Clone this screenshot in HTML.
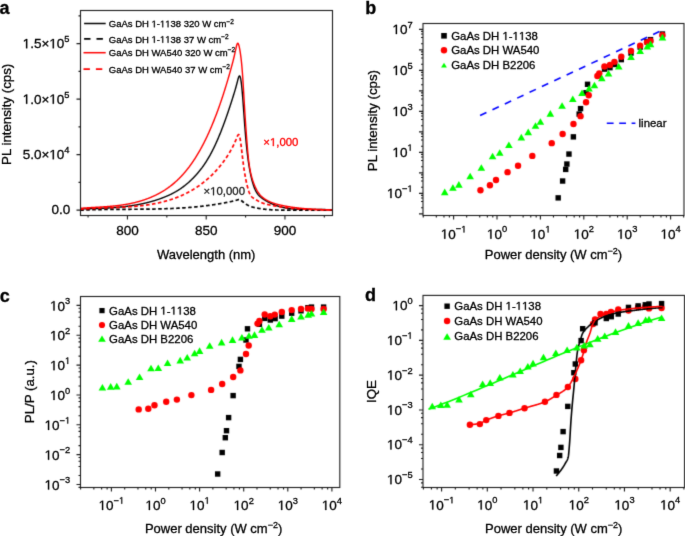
<!DOCTYPE html>
<html><head><meta charset="utf-8"><style>
html,body{margin:0;padding:0;background:#fff;}
svg{display:block;}
text{font-family:"Liberation Sans",sans-serif;}
</style></head><body>
<svg width="685" height="536" viewBox="0 0 685 536" font-family="Liberation Sans, sans-serif">
<defs><filter id="bl" filterUnits="userSpaceOnUse" x="-10" y="-10" width="705" height="556" color-interpolation-filters="sRGB"><feConvolveMatrix order="3" kernelMatrix="0.0289 0.1700 0.0289 0.1700 1.0000 0.1700 0.0289 0.1700 0.0289" divisor="1.7956" edgeMode="duplicate" preserveAlpha="true"/></filter><filter id="bl2" filterUnits="userSpaceOnUse" x="-10" y="-10" width="705" height="556" color-interpolation-filters="sRGB"><feConvolveMatrix order="3" kernelMatrix="0.0100 0.1000 0.0100 0.1000 1.0000 0.1000 0.0100 0.1000 0.0100" divisor="1.4400" edgeMode="duplicate" preserveAlpha="false"/></filter></defs>
<g filter="url(#bl)">
<rect x="-10" y="-10" width="705" height="556" fill="#fff"/>
<clipPath id="ca"><rect x="80.2" y="10.4" width="252" height="204.7"/></clipPath>
<g clip-path="url(#ca)">
<path d="M80.2 208.98 L80.5 208.98 L80.8 208.97 L81.1 208.96 L81.4 208.95 L81.7 208.95 L82 208.94 L82.3 208.93 L82.6 208.92 L82.9 208.91 L83.2 208.9 L83.5 208.89 L83.8 208.88 L84.1 208.87 L84.4 208.87 L84.7 208.86 L85 208.85 L85.3 208.84 L85.6 208.83 L85.9 208.82 L86.2 208.81 L86.5 208.8 L86.8 208.79 L87.1 208.79 L87.4 208.78 L87.7 208.77 L88 208.76 L88.3 208.75 L88.6 208.74 L88.9 208.73 L89.2 208.72 L89.5 208.71 L89.8 208.71 L90.1 208.7 L90.4 208.69 L90.7 208.68 L91 208.67 L91.3 208.66 L91.6 208.65 L91.9 208.64 L92.2 208.63 L92.5 208.62 L92.8 208.61 L93.1 208.6 L93.4 208.59 L93.7 208.58 L94 208.58 L94.3 208.57 L94.6 208.56 L94.9 208.55 L95.2 208.54 L95.5 208.53 L95.8 208.52 L96.1 208.5 L96.4 208.49 L96.7 208.48 L97 208.47 L97.3 208.46 L97.6 208.45 L97.9 208.44 L98.2 208.43 L98.5 208.42 L98.8 208.41 L99.1 208.4 L99.4 208.38 L99.7 208.37 L100 208.36 L100.3 208.35 L100.6 208.34 L100.9 208.32 L101.2 208.31 L101.5 208.3 L101.8 208.29 L102.1 208.27 L102.4 208.26 L102.7 208.25 L103 208.23 L103.3 208.22 L103.6 208.21 L103.9 208.19 L104.2 208.18 L104.5 208.16 L104.8 208.15 L105.1 208.14 L105.4 208.12 L105.7 208.11 L106 208.09 L106.3 208.07 L106.6 208.06 L106.9 208.04 L107.2 208.03 L107.5 208.01 L107.8 207.99 L108.1 207.98 L108.4 207.96 L108.7 207.94 L109 207.93 L109.3 207.91 L109.6 207.89 L109.9 207.87 L110.2 207.85 L110.5 207.83 L110.8 207.81 L111.1 207.8 L111.4 207.78 L111.7 207.76 L112 207.74 L112.3 207.72 L112.6 207.7 L112.9 207.67 L113.2 207.65 L113.5 207.63 L113.8 207.61 L114.1 207.59 L114.4 207.57 L114.7 207.54 L115 207.52 L115.3 207.5 L115.6 207.47 L115.9 207.45 L116.2 207.43 L116.5 207.4 L116.8 207.38 L117.1 207.35 L117.4 207.33 L117.7 207.3 L118 207.27 L118.3 207.25 L118.6 207.22 L118.9 207.19 L119.2 207.17 L119.5 207.14 L119.8 207.11 L120.1 207.08 L120.4 207.05 L120.7 207.02 L121 206.99 L121.3 206.96 L121.6 206.93 L121.9 206.9 L122.2 206.87 L122.5 206.84 L122.8 206.81 L123.1 206.77 L123.4 206.74 L123.7 206.71 L124 206.67 L124.3 206.64 L124.6 206.61 L124.9 206.57 L125.2 206.54 L125.5 206.5 L125.8 206.46 L126.1 206.43 L126.4 206.39 L126.7 206.35 L127 206.32 L127.3 206.28 L127.6 206.24 L127.9 206.2 L128.2 206.16 L128.5 206.12 L128.8 206.08 L129.1 206.04 L129.4 206 L129.7 205.96 L130 205.91 L130.3 205.87 L130.6 205.83 L130.9 205.78 L131.2 205.74 L131.5 205.7 L131.8 205.65 L132.1 205.61 L132.4 205.56 L132.7 205.51 L133 205.47 L133.3 205.42 L133.6 205.37 L133.9 205.32 L134.2 205.27 L134.5 205.22 L134.8 205.17 L135.1 205.12 L135.4 205.07 L135.7 205.02 L136 204.97 L136.3 204.91 L136.6 204.86 L136.9 204.81 L137.2 204.75 L137.5 204.7 L137.8 204.64 L138.1 204.58 L138.4 204.53 L138.7 204.47 L139 204.41 L139.3 204.35 L139.6 204.3 L139.9 204.24 L140.2 204.18 L140.5 204.12 L140.8 204.05 L141.1 203.99 L141.4 203.93 L141.7 203.87 L142 203.8 L142.3 203.74 L142.6 203.67 L142.9 203.61 L143.2 203.54 L143.5 203.48 L143.8 203.41 L144.1 203.34 L144.4 203.27 L144.7 203.2 L145 203.13 L145.3 203.06 L145.6 202.99 L145.9 202.92 L146.2 202.85 L146.5 202.78 L146.8 202.7 L147.1 202.63 L147.4 202.55 L147.7 202.48 L148 202.4 L148.3 202.32 L148.6 202.25 L148.9 202.17 L149.2 202.09 L149.5 202.01 L149.8 201.93 L150.1 201.85 L150.4 201.77 L150.7 201.68 L151 201.6 L151.3 201.52 L151.6 201.43 L151.9 201.35 L152.2 201.26 L152.5 201.18 L152.8 201.09 L153.1 201 L153.4 200.91 L153.7 200.82 L154 200.73 L154.3 200.64 L154.6 200.55 L154.9 200.46 L155.2 200.36 L155.5 200.27 L155.8 200.17 L156.1 200.08 L156.4 199.98 L156.7 199.89 L157 199.79 L157.3 199.69 L157.6 199.59 L157.9 199.49 L158.2 199.39 L158.5 199.29 L158.8 199.19 L159.1 199.08 L159.4 198.98 L159.7 198.87 L160 198.77 L160.3 198.66 L160.6 198.56 L160.9 198.45 L161.2 198.34 L161.5 198.23 L161.8 198.12 L162.1 198.01 L162.4 197.89 L162.7 197.78 L163 197.67 L163.3 197.55 L163.6 197.43 L163.9 197.32 L164.2 197.2 L164.5 197.08 L164.8 196.96 L165.1 196.84 L165.4 196.71 L165.7 196.59 L166 196.47 L166.3 196.34 L166.6 196.21 L166.9 196.08 L167.2 195.95 L167.5 195.82 L167.8 195.69 L168.1 195.56 L168.4 195.42 L168.7 195.29 L169 195.15 L169.3 195.01 L169.6 194.87 L169.9 194.73 L170.2 194.58 L170.5 194.44 L170.8 194.29 L171.1 194.15 L171.4 194 L171.7 193.85 L172 193.7 L172.3 193.54 L172.6 193.39 L172.9 193.23 L173.2 193.07 L173.5 192.91 L173.8 192.75 L174.1 192.59 L174.4 192.43 L174.7 192.26 L175 192.09 L175.3 191.92 L175.6 191.75 L175.9 191.58 L176.2 191.4 L176.5 191.23 L176.8 191.05 L177.1 190.87 L177.4 190.68 L177.7 190.5 L178 190.31 L178.3 190.13 L178.6 189.94 L178.9 189.75 L179.2 189.55 L179.5 189.36 L179.8 189.16 L180.1 188.96 L180.4 188.76 L180.7 188.55 L181 188.35 L181.3 188.14 L181.6 187.93 L181.9 187.72 L182.2 187.5 L182.5 187.29 L182.8 187.07 L183.1 186.85 L183.4 186.63 L183.7 186.4 L184 186.17 L184.3 185.94 L184.6 185.71 L184.9 185.48 L185.2 185.24 L185.5 185 L185.8 184.76 L186.1 184.52 L186.4 184.27 L186.7 184.02 L187 183.77 L187.3 183.52 L187.6 183.26 L187.9 183.01 L188.2 182.74 L188.5 182.48 L188.8 182.22 L189.1 181.95 L189.4 181.68 L189.7 181.4 L190 181.13 L190.3 180.85 L190.6 180.57 L190.9 180.28 L191.2 180 L191.5 179.71 L191.8 179.41 L192.1 179.12 L192.4 178.82 L192.7 178.52 L193 178.22 L193.3 177.91 L193.6 177.6 L193.9 177.29 L194.2 176.98 L194.5 176.66 L194.8 176.34 L195.1 176.01 L195.4 175.69 L195.7 175.36 L196 175.03 L196.3 174.69 L196.6 174.35 L196.9 174.01 L197.2 173.67 L197.5 173.32 L197.8 172.97 L198.1 172.62 L198.4 172.26 L198.7 171.9 L199 171.54 L199.3 171.17 L199.6 170.8 L199.9 170.42 L200.2 170.05 L200.5 169.67 L200.8 169.28 L201.1 168.89 L201.4 168.5 L201.7 168.11 L202 167.7 L202.3 167.3 L202.6 166.89 L202.9 166.48 L203.2 166.06 L203.5 165.64 L203.8 165.21 L204.1 164.78 L204.4 164.34 L204.7 163.9 L205 163.46 L205.3 163.01 L205.6 162.55 L205.9 162.09 L206.2 161.62 L206.5 161.15 L206.8 160.67 L207.1 160.19 L207.4 159.7 L207.7 159.21 L208 158.7 L208.3 158.2 L208.6 157.69 L208.9 157.17 L209.2 156.65 L209.5 156.12 L209.8 155.58 L210.1 155.04 L210.4 154.49 L210.7 153.94 L211 153.38 L211.3 152.82 L211.6 152.24 L211.9 151.67 L212.2 151.09 L212.5 150.5 L212.8 149.9 L213.1 149.3 L213.4 148.7 L213.7 148.08 L214 147.47 L214.3 146.84 L214.6 146.21 L214.9 145.58 L215.2 144.94 L215.5 144.29 L215.8 143.64 L216.1 142.98 L216.4 142.31 L216.7 141.64 L217 140.97 L217.3 140.29 L217.6 139.6 L217.9 138.9 L218.2 138.2 L218.5 137.5 L218.8 136.79 L219.1 136.07 L219.4 135.35 L219.7 134.62 L220 133.88 L220.3 133.14 L220.6 132.4 L220.9 131.65 L221.2 130.89 L221.5 130.13 L221.8 129.36 L222.1 128.58 L222.4 127.8 L222.7 127.01 L223 126.22 L223.3 125.42 L223.6 124.62 L223.9 123.81 L224.2 123 L224.5 122.18 L224.8 121.35 L225.1 120.52 L225.4 119.68 L225.7 118.84 L226 117.99 L226.3 117.14 L226.6 116.28 L226.9 115.42 L227.2 114.55 L227.5 113.68 L227.8 112.8 L228.1 111.92 L228.4 111.03 L228.7 110.14 L229 109.25 L229.3 108.34 L229.6 107.44 L229.9 106.53 L230.2 105.62 L230.5 104.7 L230.8 103.77 L231.1 102.85 L231.4 101.92 L231.7 100.98 L232 100.04 L232.3 99.1 L232.6 98.15 L232.9 97.2 L233.2 96.24 L233.5 95.28 L233.8 94.32 L234.1 93.34 L234.4 92.36 L234.7 91.37 L235 90.37 L235.3 89.35 L235.6 88.31 L235.9 87.25 L236.2 86.16 L236.5 85.05 L236.8 83.9 L237.1 82.74 L237.4 81.57 L237.7 80.4 L238 79.27 L238.3 78.22 L238.6 77.3 L238.9 76.56 L239.2 76.08 L239.5 75.9 L239.8 76.08 L240.1 76.64 L240.4 77.62 L240.7 79 L241 80.79 L241.3 82.97 L241.6 85.52 L241.9 88.42 L242.2 91.64 L242.5 95.15 L242.8 98.91 L243.1 102.87 L243.4 106.97 L243.7 111.16 L244 115.38 L244.3 119.57 L244.6 123.67 L244.9 127.66 L245.2 131.5 L245.5 135.16 L245.8 138.64 L246.1 141.93 L246.4 145.04 L246.7 147.97 L247 150.72 L247.3 153.32 L247.6 155.77 L247.9 158.09 L248.2 160.29 L248.5 162.37 L248.8 164.35 L249.1 166.23 L249.4 168.02 L249.7 169.73 L250 171.36 L250.3 172.91 L250.6 174.39 L250.9 175.8 L251.2 177.14 L251.5 178.41 L251.8 179.63 L252.1 180.78 L252.4 181.88 L252.7 182.92 L253 183.91 L253.3 184.85 L253.6 185.75 L253.9 186.59 L254.2 187.4 L254.5 188.16 L254.8 188.88 L255.1 189.56 L255.4 190.2 L255.7 190.81 L256 191.38 L256.3 191.92 L256.6 192.43 L256.9 192.92 L257.2 193.37 L257.5 193.8 L257.8 194.2 L258.1 194.58 L258.4 194.94 L258.7 195.28 L259 195.6 L259.3 195.91 L259.6 196.2 L259.9 196.48 L260.2 196.74 L260.5 197 L260.8 197.24 L261.1 197.48 L261.4 197.72 L261.7 197.94 L262 198.17 L262.3 198.38 L262.6 198.6 L262.9 198.81 L263.2 199.02 L263.5 199.22 L263.8 199.42 L264.1 199.62 L264.4 199.81 L264.7 200 L265 200.19 L265.3 200.38 L265.6 200.56 L265.9 200.74 L266.2 200.92 L266.5 201.09 L266.8 201.26 L267.1 201.43 L267.4 201.6 L267.7 201.76 L268 201.93 L268.3 202.09 L268.6 202.24 L268.9 202.4 L269.2 202.55 L269.5 202.7 L269.8 202.85 L270.1 202.99 L270.4 203.13 L270.7 203.27 L271 203.41 L271.3 203.55 L271.6 203.68 L271.9 203.82 L272.2 203.95 L272.5 204.08 L272.8 204.2 L273.1 204.33 L273.4 204.45 L273.7 204.57 L274 204.69 L274.3 204.81 L274.6 204.92 L274.9 205.03 L275.2 205.14 L275.5 205.25 L275.8 205.36 L276.1 205.47 L276.4 205.57 L276.7 205.67 L277 205.77 L277.3 205.87 L277.6 205.97 L277.9 206.06 L278.2 206.16 L278.5 206.25 L278.8 206.34 L279.1 206.42 L279.4 206.51 L279.7 206.6 L280 206.68 L280.3 206.76 L280.6 206.84 L280.9 206.92 L281.2 206.99 L281.5 207.07 L281.8 207.14 L282.1 207.22 L282.4 207.29 L282.7 207.36 L283 207.42 L283.3 207.49 L283.6 207.55 L283.9 207.62 L284.2 207.68 L284.5 207.74 L284.8 207.8 L285.1 207.86 L285.4 207.91 L285.7 207.97 L286 208.02 L286.3 208.07 L286.6 208.12 L286.9 208.17 L287.2 208.22 L287.5 208.27 L287.8 208.32 L288.1 208.36 L288.4 208.4 L288.7 208.45 L289 208.49 L289.3 208.53 L289.6 208.57 L289.9 208.61 L290.2 208.64 L290.5 208.68 L290.8 208.71 L291.1 208.75 L291.4 208.78 L291.7 208.81 L292 208.84 L292.3 208.87 L292.6 208.9 L292.9 208.93 L293.2 208.95 L293.5 208.98 L293.8 209 L294.1 209.03 L294.4 209.05 L294.7 209.07 L295 209.09 L295.3 209.11 L295.6 209.13 L295.9 209.15 L296.2 209.17 L296.5 209.19 L296.8 209.2 L297.1 209.22 L297.4 209.23 L297.7 209.25 L298 209.26 L298.3 209.27 L298.6 209.29 L298.9 209.3 L299.2 209.31 L299.5 209.32 L299.8 209.33 L300.1 209.34 L300.4 209.35 L300.7 209.35 L301 209.36 L301.3 209.37 L301.6 209.37 L301.9 209.38 L302.2 209.39 L302.5 209.39 L302.8 209.4 L303.1 209.4 L303.4 209.4 L303.7 209.41 L304 209.41 L304.3 209.41 L304.6 209.41 L304.9 209.41 L305.2 209.42 L305.5 209.42 L305.8 209.42 L306.1 209.42 L306.4 209.42 L306.7 209.42 L307 209.42 L307.3 209.42 L307.6 209.42 L307.9 209.42 L308.2 209.42 L308.5 209.42 L308.8 209.42 L309.1 209.42 L309.4 209.42 L309.7 209.42 L310 209.42 L310.3 209.42 L310.6 209.42 L310.9 209.42 L311.2 209.42 L311.5 209.42 L311.8 209.42 L312.1 209.42 L312.4 209.42 L312.7 209.42 L313 209.42 L313.3 209.42 L313.6 209.42 L313.9 209.42 L314.2 209.42 L314.5 209.42 L314.8 209.42 L315.1 209.42 L315.4 209.42 L315.7 209.42 L316 209.42 L316.3 209.42 L316.6 209.42 L316.9 209.42 L317.2 209.42 L317.5 209.42 L317.8 209.42 L318.1 209.42 L318.4 209.42 L318.7 209.42 L319 209.42 L319.3 209.42 L319.6 209.42 L319.9 209.42 L320.2 209.42 L320.5 209.42 L320.8 209.43 L321.1 209.43 L321.4 209.44 L321.7 209.44 L322 209.45 L322.3 209.46 L322.6 209.46 L322.9 209.47 L323.2 209.48 L323.5 209.49 L323.8 209.51 L324.1 209.52 L324.4 209.53 L324.7 209.54 L325 209.56 L325.3 209.57 L325.6 209.59 L325.9 209.6 L326.2 209.62 L326.5 209.64 L326.8 209.66 L327.1 209.68 L327.4 209.7 L327.7 209.72 L328 209.74 L328.3 209.76 L328.6 209.79 L328.9 209.81 L329.2 209.84 L329.5 209.86 L329.8 209.89 L330.1 209.92 L330.4 209.95 L330.7 209.97 L331 210 L331.3 210.03 L331.6 210.05 L331.9 210.07 L332.2 210.09" fill="none" stroke="#000" stroke-width="1.4" stroke-linejoin="round"/>
<path d="M80.2 210.24 L80.5 210.23 L80.8 210.22 L81.1 210.21 L81.4 210.2 L81.7 210.19 L82 210.17 L82.3 210.16 L82.6 210.15 L82.9 210.13 L83.2 210.12 L83.5 210.11 L83.8 210.09 L84.1 210.08 L84.4 210.07 L84.7 210.05 L85 210.04 L85.3 210.03 L85.6 210.02 L85.9 210.01 L86.2 209.99 L86.5 209.98 L86.8 209.97 L87.1 209.96 L87.4 209.95 L87.7 209.94 L88 209.92 L88.3 209.91 L88.6 209.9 L88.9 209.89 L89.2 209.88 L89.5 209.87 L89.8 209.86 L90.1 209.85 L90.4 209.84 L90.7 209.83 L91 209.82 L91.3 209.81 L91.6 209.8 L91.9 209.79 L92.2 209.78 L92.5 209.77 L92.8 209.76 L93.1 209.76 L93.4 209.75 L93.7 209.74 L94 209.73 L94.3 209.72 L94.6 209.71 L94.9 209.7 L95.2 209.7 L95.5 209.69 L95.8 209.68 L96.1 209.67 L96.4 209.67 L96.7 209.66 L97 209.65 L97.3 209.64 L97.6 209.64 L97.9 209.63 L98.2 209.62 L98.5 209.62 L98.8 209.61 L99.1 209.6 L99.4 209.6 L99.7 209.59 L100 209.58 L100.3 209.58 L100.6 209.57 L100.9 209.56 L101.2 209.56 L101.5 209.55 L101.8 209.55 L102.1 209.54 L102.4 209.54 L102.7 209.53 L103 209.53 L103.3 209.52 L103.6 209.51 L103.9 209.51 L104.2 209.5 L104.5 209.5 L104.8 209.49 L105.1 209.49 L105.4 209.49 L105.7 209.48 L106 209.48 L106.3 209.47 L106.6 209.47 L106.9 209.46 L107.2 209.46 L107.5 209.45 L107.8 209.45 L108.1 209.45 L108.4 209.44 L108.7 209.44 L109 209.44 L109.3 209.43 L109.6 209.43 L109.9 209.42 L110.2 209.42 L110.5 209.42 L110.8 209.41 L111.1 209.41 L111.4 209.41 L111.7 209.4 L112 209.4 L112.3 209.4 L112.6 209.39 L112.9 209.39 L113.2 209.39 L113.5 209.39 L113.8 209.38 L114.1 209.38 L114.4 209.38 L114.7 209.37 L115 209.37 L115.3 209.37 L115.6 209.37 L115.9 209.36 L116.2 209.36 L116.5 209.36 L116.8 209.36 L117.1 209.36 L117.4 209.35 L117.7 209.35 L118 209.35 L118.3 209.35 L118.6 209.34 L118.9 209.34 L119.2 209.34 L119.5 209.34 L119.8 209.34 L120.1 209.33 L120.4 209.33 L120.7 209.33 L121 209.33 L121.3 209.33 L121.6 209.32 L121.9 209.32 L122.2 209.32 L122.5 209.32 L122.8 209.32 L123.1 209.32 L123.4 209.31 L123.7 209.31 L124 209.31 L124.3 209.31 L124.6 209.31 L124.9 209.3 L125.2 209.3 L125.5 209.3 L125.8 209.3 L126.1 209.3 L126.4 209.3 L126.7 209.3 L127 209.29 L127.3 209.29 L127.6 209.29 L127.9 209.29 L128.2 209.29 L128.5 209.29 L128.8 209.28 L129.1 209.28 L129.4 209.28 L129.7 209.28 L130 209.28 L130.3 209.28 L130.6 209.27 L130.9 209.27 L131.2 209.27 L131.5 209.27 L131.8 209.27 L132.1 209.27 L132.4 209.26 L132.7 209.26 L133 209.26 L133.3 209.26 L133.6 209.26 L133.9 209.26 L134.2 209.25 L134.5 209.25 L134.8 209.25 L135.1 209.25 L135.4 209.25 L135.7 209.24 L136 209.24 L136.3 209.24 L136.6 209.24 L136.9 209.24 L137.2 209.23 L137.5 209.23 L137.8 209.23 L138.1 209.23 L138.4 209.22 L138.7 209.22 L139 209.22 L139.3 209.22 L139.6 209.22 L139.9 209.21 L140.2 209.21 L140.5 209.21 L140.8 209.21 L141.1 209.2 L141.4 209.2 L141.7 209.2 L142 209.19 L142.3 209.19 L142.6 209.19 L142.9 209.19 L143.2 209.18 L143.5 209.18 L143.8 209.18 L144.1 209.17 L144.4 209.17 L144.7 209.17 L145 209.16 L145.3 209.16 L145.6 209.16 L145.9 209.15 L146.2 209.15 L146.5 209.15 L146.8 209.14 L147.1 209.14 L147.4 209.14 L147.7 209.13 L148 209.13 L148.3 209.12 L148.6 209.12 L148.9 209.12 L149.2 209.11 L149.5 209.11 L149.8 209.1 L150.1 209.1 L150.4 209.09 L150.7 209.09 L151 209.08 L151.3 209.08 L151.6 209.07 L151.9 209.07 L152.2 209.06 L152.5 209.06 L152.8 209.05 L153.1 209.05 L153.4 209.04 L153.7 209.04 L154 209.03 L154.3 209.03 L154.6 209.02 L154.9 209.02 L155.2 209.01 L155.5 209 L155.8 209 L156.1 208.99 L156.4 208.98 L156.7 208.98 L157 208.97 L157.3 208.97 L157.6 208.96 L157.9 208.95 L158.2 208.94 L158.5 208.94 L158.8 208.93 L159.1 208.92 L159.4 208.92 L159.7 208.91 L160 208.9 L160.3 208.89 L160.6 208.89 L160.9 208.88 L161.2 208.87 L161.5 208.86 L161.8 208.85 L162.1 208.84 L162.4 208.84 L162.7 208.83 L163 208.82 L163.3 208.81 L163.6 208.8 L163.9 208.79 L164.2 208.78 L164.5 208.77 L164.8 208.76 L165.1 208.75 L165.4 208.74 L165.7 208.73 L166 208.72 L166.3 208.71 L166.6 208.7 L166.9 208.69 L167.2 208.68 L167.5 208.67 L167.8 208.66 L168.1 208.65 L168.4 208.64 L168.7 208.63 L169 208.61 L169.3 208.6 L169.6 208.59 L169.9 208.58 L170.2 208.57 L170.5 208.56 L170.8 208.54 L171.1 208.53 L171.4 208.52 L171.7 208.5 L172 208.49 L172.3 208.48 L172.6 208.47 L172.9 208.45 L173.2 208.44 L173.5 208.42 L173.8 208.41 L174.1 208.4 L174.4 208.38 L174.7 208.37 L175 208.35 L175.3 208.34 L175.6 208.32 L175.9 208.31 L176.2 208.29 L176.5 208.28 L176.8 208.26 L177.1 208.25 L177.4 208.23 L177.7 208.21 L178 208.2 L178.3 208.18 L178.6 208.16 L178.9 208.15 L179.2 208.13 L179.5 208.11 L179.8 208.1 L180.1 208.08 L180.4 208.06 L180.7 208.04 L181 208.02 L181.3 208.01 L181.6 207.99 L181.9 207.97 L182.2 207.95 L182.5 207.93 L182.8 207.91 L183.1 207.89 L183.4 207.87 L183.7 207.85 L184 207.83 L184.3 207.81 L184.6 207.79 L184.9 207.77 L185.2 207.75 L185.5 207.73 L185.8 207.71 L186.1 207.69 L186.4 207.66 L186.7 207.64 L187 207.62 L187.3 207.6 L187.6 207.58 L187.9 207.55 L188.2 207.53 L188.5 207.51 L188.8 207.48 L189.1 207.46 L189.4 207.44 L189.7 207.41 L190 207.39 L190.3 207.36 L190.6 207.34 L190.9 207.31 L191.2 207.29 L191.5 207.26 L191.8 207.24 L192.1 207.21 L192.4 207.19 L192.7 207.16 L193 207.13 L193.3 207.11 L193.6 207.08 L193.9 207.05 L194.2 207.03 L194.5 207 L194.8 206.97 L195.1 206.94 L195.4 206.91 L195.7 206.88 L196 206.86 L196.3 206.83 L196.6 206.8 L196.9 206.77 L197.2 206.74 L197.5 206.71 L197.8 206.68 L198.1 206.65 L198.4 206.62 L198.7 206.58 L199 206.55 L199.3 206.52 L199.6 206.49 L199.9 206.46 L200.2 206.43 L200.5 206.39 L200.8 206.36 L201.1 206.33 L201.4 206.29 L201.7 206.26 L202 206.23 L202.3 206.19 L202.6 206.16 L202.9 206.12 L203.2 206.09 L203.5 206.05 L203.8 206.02 L204.1 205.98 L204.4 205.95 L204.7 205.91 L205 205.87 L205.3 205.84 L205.6 205.8 L205.9 205.76 L206.2 205.72 L206.5 205.69 L206.8 205.65 L207.1 205.61 L207.4 205.57 L207.7 205.53 L208 205.49 L208.3 205.45 L208.6 205.41 L208.9 205.37 L209.2 205.33 L209.5 205.29 L209.8 205.25 L210.1 205.21 L210.4 205.17 L210.7 205.13 L211 205.08 L211.3 205.04 L211.6 205 L211.9 204.95 L212.2 204.91 L212.5 204.87 L212.8 204.82 L213.1 204.78 L213.4 204.73 L213.7 204.69 L214 204.64 L214.3 204.6 L214.6 204.55 L214.9 204.51 L215.2 204.46 L215.5 204.41 L215.8 204.37 L216.1 204.32 L216.4 204.27 L216.7 204.22 L217 204.17 L217.3 204.13 L217.6 204.08 L217.9 204.03 L218.2 203.98 L218.5 203.93 L218.8 203.88 L219.1 203.83 L219.4 203.78 L219.7 203.73 L220 203.67 L220.3 203.62 L220.6 203.57 L220.9 203.52 L221.2 203.46 L221.5 203.41 L221.8 203.36 L222.1 203.3 L222.4 203.25 L222.7 203.2 L223 203.14 L223.3 203.09 L223.6 203.03 L223.9 202.97 L224.2 202.92 L224.5 202.86 L224.8 202.8 L225.1 202.75 L225.4 202.69 L225.7 202.63 L226 202.57 L226.3 202.51 L226.6 202.46 L226.9 202.4 L227.2 202.34 L227.5 202.28 L227.8 202.22 L228.1 202.16 L228.4 202.09 L228.7 202.03 L229 201.97 L229.3 201.91 L229.6 201.85 L229.9 201.78 L230.2 201.72 L230.5 201.66 L230.8 201.59 L231.1 201.53 L231.4 201.46 L231.7 201.4 L232 201.33 L232.3 201.27 L232.6 201.2 L232.9 201.13 L233.2 201.07 L233.5 201 L233.8 200.93 L234.1 200.86 L234.4 200.79 L234.7 200.71 L235 200.64 L235.3 200.56 L235.6 200.47 L235.9 200.39 L236.2 200.3 L236.5 200.2 L236.8 200.1 L237.1 200 L237.4 199.9 L237.7 199.79 L238 199.7 L238.3 199.62 L238.6 199.55 L238.9 199.51 L239.2 199.5 L239.5 199.53 L239.8 199.6 L240.1 199.72 L240.4 199.87 L240.7 200.06 L241 200.28 L241.3 200.51 L241.6 200.75 L241.9 201 L242.2 201.25 L242.5 201.5 L242.8 201.74 L243.1 201.98 L243.4 202.22 L243.7 202.46 L244 202.69 L244.3 202.91 L244.6 203.14 L244.9 203.36 L245.2 203.57 L245.5 203.78 L245.8 203.99 L246.1 204.19 L246.4 204.38 L246.7 204.57 L247 204.76 L247.3 204.93 L247.6 205.11 L247.9 205.27 L248.2 205.43 L248.5 205.58 L248.8 205.72 L249.1 205.86 L249.4 205.99 L249.7 206.12 L250 206.24 L250.3 206.35 L250.6 206.46 L250.9 206.57 L251.2 206.67 L251.5 206.77 L251.8 206.86 L252.1 206.95 L252.4 207.03 L252.7 207.12 L253 207.2 L253.3 207.27 L253.6 207.35 L253.9 207.42 L254.2 207.49 L254.5 207.55 L254.8 207.62 L255.1 207.68 L255.4 207.75 L255.7 207.81 L256 207.87 L256.3 207.93 L256.6 207.99 L256.9 208.05 L257.2 208.1 L257.5 208.16 L257.8 208.21 L258.1 208.27 L258.4 208.32 L258.7 208.37 L259 208.42 L259.3 208.47 L259.6 208.52 L259.9 208.57 L260.2 208.62 L260.5 208.66 L260.8 208.71 L261.1 208.75 L261.4 208.79 L261.7 208.84 L262 208.88 L262.3 208.92 L262.6 208.96 L262.9 209 L263.2 209.04 L263.5 209.07 L263.8 209.11 L264.1 209.15 L264.4 209.18 L264.7 209.22 L265 209.25 L265.3 209.28 L265.6 209.31 L265.9 209.34 L266.2 209.37 L266.5 209.4 L266.8 209.43 L267.1 209.46 L267.4 209.49 L267.7 209.51 L268 209.54 L268.3 209.56 L268.6 209.59 L268.9 209.61 L269.2 209.64 L269.5 209.66 L269.8 209.68 L270.1 209.7 L270.4 209.72 L270.7 209.74 L271 209.76 L271.3 209.78 L271.6 209.79 L271.9 209.81 L272.2 209.83 L272.5 209.84 L272.8 209.86 L273.1 209.87 L273.4 209.89 L273.7 209.9 L274 209.91 L274.3 209.92 L274.6 209.93 L274.9 209.94 L275.2 209.96 L275.5 209.96 L275.8 209.97 L276.1 209.98 L276.4 209.99 L276.7 210 L277 210.01 L277.3 210.01 L277.6 210.02 L277.9 210.02 L278.2 210.03 L278.5 210.03 L278.8 210.04 L279.1 210.04 L279.4 210.04 L279.7 210.05 L280 210.05 L280.3 210.05 L280.6 210.05 L280.9 210.05 L281.2 210.06 L281.5 210.06 L281.8 210.06 L282.1 210.06 L282.4 210.06 L282.7 210.06 L283 210.06 L283.3 210.06 L283.6 210.06 L283.9 210.06 L284.2 210.06 L284.5 210.06 L284.8 210.06 L285.1 210.06 L285.4 210.06 L285.7 210.06 L286 210.06 L286.3 210.06 L286.6 210.06 L286.9 210.06 L287.2 210.06 L287.5 210.06 L287.8 210.06 L288.1 210.06 L288.4 210.06 L288.7 210.06 L289 210.06 L289.3 210.06 L289.6 210.06 L289.9 210.06 L290.2 210.06 L290.5 210.06 L290.8 210.06 L291.1 210.06 L291.4 210.06 L291.7 210.06 L292 210.06 L292.3 210.06 L292.6 210.06 L292.9 210.06 L293.2 210.06 L293.5 210.06 L293.8 210.06 L294.1 210.06 L294.4 210.06 L294.7 210.06 L295 210.06 L295.3 210.06 L295.6 210.06 L295.9 210.06 L296.2 210.06 L296.5 210.06 L296.8 210.06 L297.1 210.06 L297.4 210.06 L297.7 210.06 L298 210.06 L298.3 210.06 L298.6 210.06 L298.9 210.06 L299.2 210.06 L299.5 210.06 L299.8 210.06 L300.1 210.06 L300.4 210.06 L300.7 210.06 L301 210.06 L301.3 210.06 L301.6 210.06 L301.9 210.06 L302.2 210.06 L302.5 210.06 L302.8 210.06 L303.1 210.06 L303.4 210.06 L303.7 210.06 L304 210.06 L304.3 210.06 L304.6 210.06 L304.9 210.06 L305.2 210.06 L305.5 210.06 L305.8 210.06 L306.1 210.06 L306.4 210.06 L306.7 210.06 L307 210.06 L307.3 210.06 L307.6 210.06 L307.9 210.06 L308.2 210.06 L308.5 210.06 L308.8 210.06 L309.1 210.06 L309.4 210.06 L309.7 210.06 L310 210.06 L310.3 210.06 L310.6 210.06 L310.9 210.06 L311.2 210.06 L311.5 210.06 L311.8 210.06 L312.1 210.06 L312.4 210.06 L312.7 210.06 L313 210.06 L313.3 210.06 L313.6 210.06 L313.9 210.06 L314.2 210.06 L314.5 210.06 L314.8 210.06 L315.1 210.06 L315.4 210.06 L315.7 210.06 L316 210.06 L316.3 210.06 L316.6 210.06 L316.9 210.06 L317.2 210.06 L317.5 210.06 L317.8 210.06 L318.1 210.06 L318.4 210.06 L318.7 210.06 L319 210.06 L319.3 210.06 L319.6 210.06 L319.9 210.06 L320.2 210.06 L320.5 210.06 L320.8 210.06 L321.1 210.06 L321.4 210.06 L321.7 210.06 L322 210.06 L322.3 210.06 L322.6 210.06 L322.9 210.06 L323.2 210.06 L323.5 210.06 L323.8 210.06 L324.1 210.06 L324.4 210.06 L324.7 210.06 L325 210.06 L325.3 210.06 L325.6 210.06 L325.9 210.06 L326.2 210.06 L326.5 210.06 L326.8 210.06 L327.1 210.06 L327.4 210.06 L327.7 210.06 L328 210.06 L328.3 210.06 L328.6 210.06 L328.9 210.06 L329.2 210.06 L329.5 210.06 L329.8 210.07 L330.1 210.07 L330.4 210.08 L330.7 210.09 L331 210.11 L331.3 210.13 L331.6 210.14 L331.9 210.16 L332.2 210.18" fill="none" stroke="#000" stroke-width="1.7" stroke-dasharray="3.6 2.4" stroke-linejoin="round"/>
<path d="M80.2 208.28 L80.5 208.26 L80.8 208.25 L81.1 208.23 L81.4 208.21 L81.7 208.19 L82 208.17 L82.3 208.14 L82.6 208.12 L82.9 208.1 L83.2 208.08 L83.5 208.06 L83.8 208.04 L84.1 208.01 L84.4 207.99 L84.7 207.97 L85 207.95 L85.3 207.93 L85.6 207.91 L85.9 207.89 L86.2 207.87 L86.5 207.85 L86.8 207.83 L87.1 207.81 L87.4 207.79 L87.7 207.78 L88 207.76 L88.3 207.74 L88.6 207.72 L88.9 207.7 L89.2 207.68 L89.5 207.66 L89.8 207.65 L90.1 207.63 L90.4 207.61 L90.7 207.59 L91 207.57 L91.3 207.56 L91.6 207.54 L91.9 207.52 L92.2 207.5 L92.5 207.49 L92.8 207.47 L93.1 207.45 L93.4 207.43 L93.7 207.42 L94 207.4 L94.3 207.38 L94.6 207.36 L94.9 207.35 L95.2 207.33 L95.5 207.31 L95.8 207.3 L96.1 207.28 L96.4 207.26 L96.7 207.24 L97 207.23 L97.3 207.21 L97.6 207.19 L97.9 207.17 L98.2 207.16 L98.5 207.14 L98.8 207.12 L99.1 207.1 L99.4 207.08 L99.7 207.07 L100 207.05 L100.3 207.03 L100.6 207.01 L100.9 206.99 L101.2 206.97 L101.5 206.95 L101.8 206.94 L102.1 206.92 L102.4 206.9 L102.7 206.88 L103 206.86 L103.3 206.84 L103.6 206.82 L103.9 206.8 L104.2 206.78 L104.5 206.76 L104.8 206.74 L105.1 206.71 L105.4 206.69 L105.7 206.67 L106 206.65 L106.3 206.63 L106.6 206.61 L106.9 206.58 L107.2 206.56 L107.5 206.54 L107.8 206.52 L108.1 206.49 L108.4 206.47 L108.7 206.44 L109 206.42 L109.3 206.4 L109.6 206.37 L109.9 206.35 L110.2 206.32 L110.5 206.29 L110.8 206.27 L111.1 206.24 L111.4 206.21 L111.7 206.19 L112 206.16 L112.3 206.13 L112.6 206.1 L112.9 206.07 L113.2 206.05 L113.5 206.02 L113.8 205.99 L114.1 205.96 L114.4 205.93 L114.7 205.9 L115 205.86 L115.3 205.83 L115.6 205.8 L115.9 205.77 L116.2 205.73 L116.5 205.7 L116.8 205.67 L117.1 205.63 L117.4 205.6 L117.7 205.56 L118 205.53 L118.3 205.49 L118.6 205.45 L118.9 205.41 L119.2 205.38 L119.5 205.34 L119.8 205.3 L120.1 205.26 L120.4 205.22 L120.7 205.18 L121 205.14 L121.3 205.1 L121.6 205.05 L121.9 205.01 L122.2 204.97 L122.5 204.93 L122.8 204.88 L123.1 204.84 L123.4 204.79 L123.7 204.74 L124 204.7 L124.3 204.65 L124.6 204.6 L124.9 204.55 L125.2 204.5 L125.5 204.45 L125.8 204.4 L126.1 204.35 L126.4 204.3 L126.7 204.25 L127 204.2 L127.3 204.14 L127.6 204.09 L127.9 204.03 L128.2 203.98 L128.5 203.92 L128.8 203.86 L129.1 203.8 L129.4 203.75 L129.7 203.69 L130 203.63 L130.3 203.57 L130.6 203.5 L130.9 203.44 L131.2 203.38 L131.5 203.31 L131.8 203.25 L132.1 203.18 L132.4 203.12 L132.7 203.05 L133 202.98 L133.3 202.92 L133.6 202.85 L133.9 202.78 L134.2 202.71 L134.5 202.63 L134.8 202.56 L135.1 202.49 L135.4 202.41 L135.7 202.34 L136 202.26 L136.3 202.19 L136.6 202.11 L136.9 202.03 L137.2 201.95 L137.5 201.87 L137.8 201.79 L138.1 201.71 L138.4 201.62 L138.7 201.54 L139 201.46 L139.3 201.37 L139.6 201.28 L139.9 201.2 L140.2 201.11 L140.5 201.02 L140.8 200.93 L141.1 200.84 L141.4 200.74 L141.7 200.65 L142 200.56 L142.3 200.46 L142.6 200.37 L142.9 200.27 L143.2 200.17 L143.5 200.07 L143.8 199.97 L144.1 199.87 L144.4 199.77 L144.7 199.66 L145 199.56 L145.3 199.45 L145.6 199.35 L145.9 199.24 L146.2 199.13 L146.5 199.02 L146.8 198.91 L147.1 198.8 L147.4 198.69 L147.7 198.57 L148 198.46 L148.3 198.34 L148.6 198.23 L148.9 198.11 L149.2 197.99 L149.5 197.87 L149.8 197.75 L150.1 197.62 L150.4 197.5 L150.7 197.37 L151 197.25 L151.3 197.12 L151.6 196.99 L151.9 196.86 L152.2 196.73 L152.5 196.6 L152.8 196.46 L153.1 196.33 L153.4 196.19 L153.7 196.06 L154 195.92 L154.3 195.78 L154.6 195.64 L154.9 195.5 L155.2 195.35 L155.5 195.21 L155.8 195.06 L156.1 194.92 L156.4 194.77 L156.7 194.62 L157 194.47 L157.3 194.32 L157.6 194.16 L157.9 194.01 L158.2 193.85 L158.5 193.69 L158.8 193.53 L159.1 193.37 L159.4 193.21 L159.7 193.05 L160 192.88 L160.3 192.72 L160.6 192.55 L160.9 192.38 L161.2 192.21 L161.5 192.04 L161.8 191.86 L162.1 191.69 L162.4 191.51 L162.7 191.33 L163 191.15 L163.3 190.96 L163.6 190.78 L163.9 190.59 L164.2 190.41 L164.5 190.22 L164.8 190.03 L165.1 189.83 L165.4 189.64 L165.7 189.44 L166 189.24 L166.3 189.04 L166.6 188.84 L166.9 188.64 L167.2 188.43 L167.5 188.22 L167.8 188.01 L168.1 187.8 L168.4 187.58 L168.7 187.37 L169 187.15 L169.3 186.93 L169.6 186.71 L169.9 186.48 L170.2 186.26 L170.5 186.03 L170.8 185.8 L171.1 185.57 L171.4 185.33 L171.7 185.09 L172 184.85 L172.3 184.61 L172.6 184.37 L172.9 184.12 L173.2 183.87 L173.5 183.62 L173.8 183.37 L174.1 183.11 L174.4 182.86 L174.7 182.6 L175 182.33 L175.3 182.07 L175.6 181.8 L175.9 181.53 L176.2 181.26 L176.5 180.98 L176.8 180.71 L177.1 180.43 L177.4 180.15 L177.7 179.86 L178 179.57 L178.3 179.28 L178.6 178.99 L178.9 178.7 L179.2 178.4 L179.5 178.1 L179.8 177.79 L180.1 177.49 L180.4 177.18 L180.7 176.87 L181 176.55 L181.3 176.24 L181.6 175.92 L181.9 175.59 L182.2 175.27 L182.5 174.94 L182.8 174.61 L183.1 174.28 L183.4 173.94 L183.7 173.6 L184 173.26 L184.3 172.91 L184.6 172.56 L184.9 172.21 L185.2 171.86 L185.5 171.5 L185.8 171.14 L186.1 170.77 L186.4 170.41 L186.7 170.04 L187 169.66 L187.3 169.29 L187.6 168.91 L187.9 168.53 L188.2 168.14 L188.5 167.75 L188.8 167.36 L189.1 166.96 L189.4 166.57 L189.7 166.16 L190 165.76 L190.3 165.35 L190.6 164.94 L190.9 164.52 L191.2 164.1 L191.5 163.68 L191.8 163.25 L192.1 162.82 L192.4 162.39 L192.7 161.95 L193 161.51 L193.3 161.07 L193.6 160.62 L193.9 160.17 L194.2 159.71 L194.5 159.26 L194.8 158.79 L195.1 158.33 L195.4 157.86 L195.7 157.38 L196 156.91 L196.3 156.42 L196.6 155.94 L196.9 155.45 L197.2 154.96 L197.5 154.46 L197.8 153.96 L198.1 153.45 L198.4 152.94 L198.7 152.43 L199 151.91 L199.3 151.39 L199.6 150.87 L199.9 150.34 L200.2 149.81 L200.5 149.27 L200.8 148.73 L201.1 148.18 L201.4 147.63 L201.7 147.07 L202 146.52 L202.3 145.95 L202.6 145.38 L202.9 144.81 L203.2 144.24 L203.5 143.66 L203.8 143.07 L204.1 142.48 L204.4 141.89 L204.7 141.29 L205 140.68 L205.3 140.08 L205.6 139.46 L205.9 138.85 L206.2 138.23 L206.5 137.6 L206.8 136.97 L207.1 136.33 L207.4 135.69 L207.7 135.05 L208 134.4 L208.3 133.75 L208.6 133.09 L208.9 132.42 L209.2 131.75 L209.5 131.08 L209.8 130.4 L210.1 129.72 L210.4 129.03 L210.7 128.34 L211 127.64 L211.3 126.93 L211.6 126.23 L211.9 125.51 L212.2 124.79 L212.5 124.07 L212.8 123.34 L213.1 122.61 L213.4 121.87 L213.7 121.12 L214 120.37 L214.3 119.62 L214.6 118.86 L214.9 118.09 L215.2 117.32 L215.5 116.55 L215.8 115.76 L216.1 114.98 L216.4 114.19 L216.7 113.39 L217 112.58 L217.3 111.78 L217.6 110.96 L217.9 110.14 L218.2 109.32 L218.5 108.49 L218.8 107.65 L219.1 106.81 L219.4 105.96 L219.7 105.11 L220 104.25 L220.3 103.39 L220.6 102.52 L220.9 101.64 L221.2 100.76 L221.5 99.87 L221.8 98.98 L222.1 98.08 L222.4 97.17 L222.7 96.26 L223 95.35 L223.3 94.42 L223.6 93.49 L223.9 92.56 L224.2 91.62 L224.5 90.67 L224.8 89.72 L225.1 88.76 L225.4 87.8 L225.7 86.83 L226 85.85 L226.3 84.87 L226.6 83.88 L226.9 82.88 L227.2 81.88 L227.5 80.87 L227.8 79.86 L228.1 78.84 L228.4 77.81 L228.7 76.78 L229 75.74 L229.3 74.7 L229.6 73.64 L229.9 72.59 L230.2 71.52 L230.5 70.45 L230.8 69.37 L231.1 68.29 L231.4 67.19 L231.7 66.09 L232 64.98 L232.3 63.86 L232.6 62.73 L232.9 61.59 L233.2 60.42 L233.5 59.23 L233.8 58.02 L234.1 56.78 L234.4 55.49 L234.7 54.17 L235 52.82 L235.3 51.43 L235.6 50.02 L235.9 48.62 L236.2 47.27 L236.5 46.02 L236.8 44.92 L237.1 44.06 L237.4 43.47 L237.7 43.21 L238 43.29 L238.3 43.71 L238.6 44.44 L238.9 45.44 L239.2 46.67 L239.5 48.1 L239.8 49.71 L240.1 51.48 L240.4 53.44 L240.7 55.58 L241 57.94 L241.3 60.54 L241.6 63.42 L241.9 66.61 L242.2 70.15 L242.5 74.05 L242.8 78.31 L243.1 82.9 L243.4 87.77 L243.7 92.83 L244 97.99 L244.3 103.13 L244.6 108.16 L244.9 113.03 L245.2 117.7 L245.5 122.17 L245.8 126.49 L246.1 130.67 L246.4 134.76 L246.7 138.75 L247 142.63 L247.3 146.38 L247.6 149.95 L247.9 153.29 L248.2 156.38 L248.5 159.2 L248.8 161.75 L249.1 164.03 L249.4 166.08 L249.7 167.92 L250 169.6 L250.3 171.13 L250.6 172.54 L250.9 173.86 L251.2 175.09 L251.5 176.26 L251.8 177.36 L252.1 178.41 L252.4 179.4 L252.7 180.35 L253 181.26 L253.3 182.13 L253.6 182.96 L253.9 183.76 L254.2 184.53 L254.5 185.27 L254.8 185.98 L255.1 186.66 L255.4 187.32 L255.7 187.96 L256 188.57 L256.3 189.16 L256.6 189.72 L256.9 190.27 L257.2 190.79 L257.5 191.3 L257.8 191.78 L258.1 192.25 L258.4 192.69 L258.7 193.12 L259 193.54 L259.3 193.93 L259.6 194.31 L259.9 194.68 L260.2 195.03 L260.5 195.36 L260.8 195.69 L261.1 196 L261.4 196.3 L261.7 196.58 L262 196.86 L262.3 197.12 L262.6 197.38 L262.9 197.62 L263.2 197.86 L263.5 198.09 L263.8 198.31 L264.1 198.53 L264.4 198.74 L264.7 198.94 L265 199.14 L265.3 199.33 L265.6 199.52 L265.9 199.7 L266.2 199.88 L266.5 200.05 L266.8 200.23 L267.1 200.39 L267.4 200.56 L267.7 200.72 L268 200.87 L268.3 201.02 L268.6 201.17 L268.9 201.32 L269.2 201.46 L269.5 201.6 L269.8 201.74 L270.1 201.87 L270.4 202 L270.7 202.12 L271 202.25 L271.3 202.37 L271.6 202.49 L271.9 202.6 L272.2 202.71 L272.5 202.83 L272.8 202.93 L273.1 203.04 L273.4 203.14 L273.7 203.24 L274 203.34 L274.3 203.44 L274.6 203.53 L274.9 203.62 L275.2 203.71 L275.5 203.8 L275.8 203.89 L276.1 203.97 L276.4 204.06 L276.7 204.14 L277 204.22 L277.3 204.3 L277.6 204.37 L277.9 204.45 L278.2 204.53 L278.5 204.6 L278.8 204.67 L279.1 204.74 L279.4 204.81 L279.7 204.88 L280 204.95 L280.3 205.02 L280.6 205.09 L280.9 205.16 L281.2 205.22 L281.5 205.29 L281.8 205.35 L282.1 205.42 L282.4 205.48 L282.7 205.54 L283 205.61 L283.3 205.67 L283.6 205.73 L283.9 205.79 L284.2 205.85 L284.5 205.91 L284.8 205.96 L285.1 206.02 L285.4 206.08 L285.7 206.14 L286 206.19 L286.3 206.25 L286.6 206.3 L286.9 206.35 L287.2 206.41 L287.5 206.46 L287.8 206.51 L288.1 206.56 L288.4 206.61 L288.7 206.66 L289 206.71 L289.3 206.76 L289.6 206.81 L289.9 206.86 L290.2 206.91 L290.5 206.95 L290.8 207 L291.1 207.05 L291.4 207.09 L291.7 207.14 L292 207.18 L292.3 207.22 L292.6 207.27 L292.9 207.31 L293.2 207.35 L293.5 207.39 L293.8 207.43 L294.1 207.47 L294.4 207.51 L294.7 207.55 L295 207.59 L295.3 207.63 L295.6 207.67 L295.9 207.71 L296.2 207.74 L296.5 207.78 L296.8 207.82 L297.1 207.85 L297.4 207.89 L297.7 207.92 L298 207.96 L298.3 207.99 L298.6 208.02 L298.9 208.06 L299.2 208.09 L299.5 208.12 L299.8 208.15 L300.1 208.18 L300.4 208.21 L300.7 208.24 L301 208.27 L301.3 208.3 L301.6 208.33 L301.9 208.36 L302.2 208.39 L302.5 208.42 L302.8 208.44 L303.1 208.47 L303.4 208.5 L303.7 208.52 L304 208.55 L304.3 208.58 L304.6 208.6 L304.9 208.63 L305.2 208.65 L305.5 208.67 L305.8 208.7 L306.1 208.72 L306.4 208.74 L306.7 208.77 L307 208.79 L307.3 208.81 L307.6 208.83 L307.9 208.85 L308.2 208.88 L308.5 208.9 L308.8 208.92 L309.1 208.94 L309.4 208.96 L309.7 208.98 L310 209 L310.3 209.01 L310.6 209.03 L310.9 209.05 L311.2 209.07 L311.5 209.09 L311.8 209.11 L312.1 209.12 L312.4 209.14 L312.7 209.16 L313 209.17 L313.3 209.19 L313.6 209.21 L313.9 209.22 L314.2 209.24 L314.5 209.25 L314.8 209.27 L315.1 209.28 L315.4 209.3 L315.7 209.31 L316 209.33 L316.3 209.34 L316.6 209.35 L316.9 209.37 L317.2 209.38 L317.5 209.39 L317.8 209.41 L318.1 209.42 L318.4 209.43 L318.7 209.45 L319 209.46 L319.3 209.47 L319.6 209.48 L319.9 209.49 L320.2 209.51 L320.5 209.52 L320.8 209.53 L321.1 209.54 L321.4 209.55 L321.7 209.56 L322 209.57 L322.3 209.59 L322.6 209.6 L322.9 209.61 L323.2 209.62 L323.5 209.63 L323.8 209.64 L324.1 209.65 L324.4 209.66 L324.7 209.67 L325 209.68 L325.3 209.69 L325.6 209.7 L325.9 209.71 L326.2 209.72 L326.5 209.73 L326.8 209.74 L327.1 209.75 L327.4 209.75 L327.7 209.76 L328 209.77 L328.3 209.78 L328.6 209.79 L328.9 209.8 L329.2 209.81 L329.5 209.82 L329.8 209.83 L330.1 209.84 L330.4 209.85 L330.7 209.85 L331 209.86 L331.3 209.87 L331.6 209.88 L331.9 209.88 L332.2 209.89" fill="none" stroke="#ff0000" stroke-width="1.4" stroke-linejoin="round"/>
<path d="M80.2 209.34 L80.5 209.33 L80.8 209.31 L81.1 209.28 L81.4 209.26 L81.7 209.23 L82 209.21 L82.3 209.18 L82.6 209.15 L82.9 209.12 L83.2 209.1 L83.5 209.07 L83.8 209.05 L84.1 209.02 L84.4 208.99 L84.7 208.97 L85 208.94 L85.3 208.92 L85.6 208.9 L85.9 208.87 L86.2 208.85 L86.5 208.83 L86.8 208.8 L87.1 208.78 L87.4 208.76 L87.7 208.74 L88 208.72 L88.3 208.69 L88.6 208.67 L88.9 208.65 L89.2 208.63 L89.5 208.61 L89.8 208.59 L90.1 208.57 L90.4 208.55 L90.7 208.53 L91 208.51 L91.3 208.5 L91.6 208.48 L91.9 208.46 L92.2 208.44 L92.5 208.42 L92.8 208.41 L93.1 208.39 L93.4 208.37 L93.7 208.36 L94 208.34 L94.3 208.32 L94.6 208.31 L94.9 208.29 L95.2 208.28 L95.5 208.26 L95.8 208.25 L96.1 208.23 L96.4 208.22 L96.7 208.2 L97 208.19 L97.3 208.17 L97.6 208.16 L97.9 208.14 L98.2 208.13 L98.5 208.12 L98.8 208.1 L99.1 208.09 L99.4 208.08 L99.7 208.06 L100 208.05 L100.3 208.04 L100.6 208.02 L100.9 208.01 L101.2 208 L101.5 207.99 L101.8 207.97 L102.1 207.96 L102.4 207.95 L102.7 207.94 L103 207.93 L103.3 207.91 L103.6 207.9 L103.9 207.89 L104.2 207.88 L104.5 207.87 L104.8 207.86 L105.1 207.84 L105.4 207.83 L105.7 207.82 L106 207.81 L106.3 207.8 L106.6 207.79 L106.9 207.78 L107.2 207.77 L107.5 207.75 L107.8 207.74 L108.1 207.73 L108.4 207.72 L108.7 207.71 L109 207.7 L109.3 207.69 L109.6 207.68 L109.9 207.67 L110.2 207.66 L110.5 207.64 L110.8 207.63 L111.1 207.62 L111.4 207.61 L111.7 207.6 L112 207.59 L112.3 207.58 L112.6 207.57 L112.9 207.56 L113.2 207.54 L113.5 207.53 L113.8 207.52 L114.1 207.51 L114.4 207.5 L114.7 207.49 L115 207.48 L115.3 207.46 L115.6 207.45 L115.9 207.44 L116.2 207.43 L116.5 207.42 L116.8 207.4 L117.1 207.39 L117.4 207.38 L117.7 207.37 L118 207.35 L118.3 207.34 L118.6 207.33 L118.9 207.32 L119.2 207.3 L119.5 207.29 L119.8 207.28 L120.1 207.26 L120.4 207.25 L120.7 207.24 L121 207.22 L121.3 207.21 L121.6 207.19 L121.9 207.18 L122.2 207.16 L122.5 207.15 L122.8 207.13 L123.1 207.12 L123.4 207.1 L123.7 207.09 L124 207.07 L124.3 207.06 L124.6 207.04 L124.9 207.02 L125.2 207.01 L125.5 206.99 L125.8 206.97 L126.1 206.96 L126.4 206.94 L126.7 206.92 L127 206.9 L127.3 206.89 L127.6 206.87 L127.9 206.85 L128.2 206.83 L128.5 206.81 L128.8 206.79 L129.1 206.77 L129.4 206.75 L129.7 206.73 L130 206.71 L130.3 206.69 L130.6 206.67 L130.9 206.65 L131.2 206.63 L131.5 206.6 L131.8 206.58 L132.1 206.56 L132.4 206.54 L132.7 206.51 L133 206.49 L133.3 206.47 L133.6 206.44 L133.9 206.42 L134.2 206.39 L134.5 206.37 L134.8 206.34 L135.1 206.32 L135.4 206.29 L135.7 206.26 L136 206.24 L136.3 206.21 L136.6 206.18 L136.9 206.15 L137.2 206.13 L137.5 206.1 L137.8 206.07 L138.1 206.04 L138.4 206.01 L138.7 205.98 L139 205.95 L139.3 205.92 L139.6 205.89 L139.9 205.85 L140.2 205.82 L140.5 205.79 L140.8 205.76 L141.1 205.72 L141.4 205.69 L141.7 205.65 L142 205.62 L142.3 205.58 L142.6 205.55 L142.9 205.51 L143.2 205.47 L143.5 205.44 L143.8 205.4 L144.1 205.36 L144.4 205.32 L144.7 205.28 L145 205.24 L145.3 205.2 L145.6 205.16 L145.9 205.12 L146.2 205.08 L146.5 205.04 L146.8 205 L147.1 204.95 L147.4 204.91 L147.7 204.86 L148 204.82 L148.3 204.77 L148.6 204.73 L148.9 204.68 L149.2 204.64 L149.5 204.59 L149.8 204.54 L150.1 204.49 L150.4 204.44 L150.7 204.39 L151 204.34 L151.3 204.29 L151.6 204.24 L151.9 204.19 L152.2 204.14 L152.5 204.08 L152.8 204.03 L153.1 203.98 L153.4 203.92 L153.7 203.87 L154 203.81 L154.3 203.75 L154.6 203.7 L154.9 203.64 L155.2 203.58 L155.5 203.52 L155.8 203.46 L156.1 203.4 L156.4 203.34 L156.7 203.28 L157 203.22 L157.3 203.15 L157.6 203.09 L157.9 203.03 L158.2 202.96 L158.5 202.9 L158.8 202.83 L159.1 202.76 L159.4 202.69 L159.7 202.63 L160 202.56 L160.3 202.49 L160.6 202.42 L160.9 202.35 L161.2 202.27 L161.5 202.2 L161.8 202.13 L162.1 202.06 L162.4 201.98 L162.7 201.91 L163 201.83 L163.3 201.75 L163.6 201.67 L163.9 201.6 L164.2 201.52 L164.5 201.44 L164.8 201.36 L165.1 201.28 L165.4 201.19 L165.7 201.11 L166 201.03 L166.3 200.94 L166.6 200.86 L166.9 200.77 L167.2 200.69 L167.5 200.6 L167.8 200.51 L168.1 200.42 L168.4 200.33 L168.7 200.24 L169 200.15 L169.3 200.06 L169.6 199.96 L169.9 199.87 L170.2 199.77 L170.5 199.68 L170.8 199.58 L171.1 199.48 L171.4 199.39 L171.7 199.29 L172 199.19 L172.3 199.09 L172.6 198.99 L172.9 198.88 L173.2 198.78 L173.5 198.68 L173.8 198.57 L174.1 198.46 L174.4 198.36 L174.7 198.25 L175 198.14 L175.3 198.03 L175.6 197.92 L175.9 197.81 L176.2 197.7 L176.5 197.58 L176.8 197.47 L177.1 197.35 L177.4 197.24 L177.7 197.12 L178 197 L178.3 196.88 L178.6 196.76 L178.9 196.64 L179.2 196.52 L179.5 196.39 L179.8 196.27 L180.1 196.14 L180.4 196.02 L180.7 195.89 L181 195.76 L181.3 195.63 L181.6 195.5 L181.9 195.37 L182.2 195.23 L182.5 195.1 L182.8 194.96 L183.1 194.83 L183.4 194.69 L183.7 194.55 L184 194.41 L184.3 194.27 L184.6 194.12 L184.9 193.98 L185.2 193.84 L185.5 193.69 L185.8 193.54 L186.1 193.39 L186.4 193.24 L186.7 193.09 L187 192.94 L187.3 192.79 L187.6 192.63 L187.9 192.48 L188.2 192.32 L188.5 192.16 L188.8 192 L189.1 191.84 L189.4 191.68 L189.7 191.51 L190 191.35 L190.3 191.18 L190.6 191.01 L190.9 190.84 L191.2 190.67 L191.5 190.5 L191.8 190.33 L192.1 190.15 L192.4 189.97 L192.7 189.8 L193 189.62 L193.3 189.44 L193.6 189.26 L193.9 189.07 L194.2 188.89 L194.5 188.7 L194.8 188.51 L195.1 188.32 L195.4 188.13 L195.7 187.94 L196 187.75 L196.3 187.55 L196.6 187.36 L196.9 187.16 L197.2 186.96 L197.5 186.76 L197.8 186.55 L198.1 186.35 L198.4 186.14 L198.7 185.94 L199 185.73 L199.3 185.52 L199.6 185.3 L199.9 185.09 L200.2 184.87 L200.5 184.66 L200.8 184.44 L201.1 184.22 L201.4 184 L201.7 183.77 L202 183.55 L202.3 183.32 L202.6 183.09 L202.9 182.86 L203.2 182.63 L203.5 182.39 L203.8 182.16 L204.1 181.92 L204.4 181.68 L204.7 181.44 L205 181.2 L205.3 180.95 L205.6 180.71 L205.9 180.46 L206.2 180.21 L206.5 179.95 L206.8 179.7 L207.1 179.44 L207.4 179.19 L207.7 178.92 L208 178.66 L208.3 178.4 L208.6 178.13 L208.9 177.86 L209.2 177.59 L209.5 177.32 L209.8 177.04 L210.1 176.76 L210.4 176.48 L210.7 176.2 L211 175.91 L211.3 175.63 L211.6 175.34 L211.9 175.04 L212.2 174.75 L212.5 174.45 L212.8 174.15 L213.1 173.85 L213.4 173.54 L213.7 173.24 L214 172.93 L214.3 172.61 L214.6 172.3 L214.9 171.98 L215.2 171.66 L215.5 171.34 L215.8 171.01 L216.1 170.68 L216.4 170.35 L216.7 170.02 L217 169.68 L217.3 169.34 L217.6 169 L217.9 168.65 L218.2 168.3 L218.5 167.95 L218.8 167.59 L219.1 167.24 L219.4 166.88 L219.7 166.51 L220 166.15 L220.3 165.78 L220.6 165.4 L220.9 165.03 L221.2 164.65 L221.5 164.26 L221.8 163.88 L222.1 163.49 L222.4 163.1 L222.7 162.7 L223 162.3 L223.3 161.9 L223.6 161.49 L223.9 161.08 L224.2 160.67 L224.5 160.25 L224.8 159.83 L225.1 159.4 L225.4 158.97 L225.7 158.54 L226 158.1 L226.3 157.66 L226.6 157.21 L226.9 156.76 L227.2 156.3 L227.5 155.84 L227.8 155.37 L228.1 154.9 L228.4 154.42 L228.7 153.93 L229 153.44 L229.3 152.95 L229.6 152.45 L229.9 151.94 L230.2 151.42 L230.5 150.9 L230.8 150.38 L231.1 149.84 L231.4 149.3 L231.7 148.76 L232 148.2 L232.3 147.64 L232.6 147.07 L232.9 146.49 L233.2 145.9 L233.5 145.31 L233.8 144.7 L234.1 144.07 L234.4 143.44 L234.7 142.78 L235 142.11 L235.3 141.41 L235.6 140.7 L235.9 139.96 L236.2 139.21 L236.5 138.45 L236.8 137.68 L237.1 136.94 L237.4 136.24 L237.7 135.61 L238 135.1 L238.3 134.74 L238.6 134.6 L238.9 134.72 L239.2 135.15 L239.5 135.93 L239.8 137.06 L240.1 138.53 L240.4 140.32 L240.7 142.37 L241 144.64 L241.3 147.07 L241.6 149.59 L241.9 152.17 L242.2 154.76 L242.5 157.31 L242.8 159.81 L243.1 162.22 L243.4 164.54 L243.7 166.74 L244 168.83 L244.3 170.8 L244.6 172.68 L244.9 174.46 L245.2 176.15 L245.5 177.77 L245.8 179.32 L246.1 180.81 L246.4 182.24 L246.7 183.61 L247 184.92 L247.3 186.16 L247.6 187.33 L247.9 188.44 L248.2 189.47 L248.5 190.43 L248.8 191.31 L249.1 192.13 L249.4 192.87 L249.7 193.55 L250 194.17 L250.3 194.73 L250.6 195.24 L250.9 195.69 L251.2 196.1 L251.5 196.47 L251.8 196.81 L252.1 197.11 L252.4 197.38 L252.7 197.63 L253 197.86 L253.3 198.08 L253.6 198.28 L253.9 198.48 L254.2 198.66 L254.5 198.85 L254.8 199.02 L255.1 199.2 L255.4 199.38 L255.7 199.55 L256 199.73 L256.3 199.9 L256.6 200.07 L256.9 200.25 L257.2 200.42 L257.5 200.58 L257.8 200.75 L258.1 200.91 L258.4 201.08 L258.7 201.24 L259 201.39 L259.3 201.55 L259.6 201.7 L259.9 201.85 L260.2 202 L260.5 202.14 L260.8 202.28 L261.1 202.42 L261.4 202.55 L261.7 202.68 L262 202.8 L262.3 202.92 L262.6 203.04 L262.9 203.15 L263.2 203.26 L263.5 203.37 L263.8 203.47 L264.1 203.57 L264.4 203.66 L264.7 203.75 L265 203.84 L265.3 203.93 L265.6 204.01 L265.9 204.09 L266.2 204.17 L266.5 204.25 L266.8 204.32 L267.1 204.39 L267.4 204.46 L267.7 204.53 L268 204.6 L268.3 204.66 L268.6 204.72 L268.9 204.79 L269.2 204.85 L269.5 204.91 L269.8 204.97 L270.1 205.03 L270.4 205.09 L270.7 205.14 L271 205.2 L271.3 205.26 L271.6 205.32 L271.9 205.37 L272.2 205.43 L272.5 205.48 L272.8 205.54 L273.1 205.59 L273.4 205.65 L273.7 205.7 L274 205.75 L274.3 205.8 L274.6 205.86 L274.9 205.91 L275.2 205.96 L275.5 206.01 L275.8 206.06 L276.1 206.11 L276.4 206.16 L276.7 206.21 L277 206.26 L277.3 206.31 L277.6 206.36 L277.9 206.4 L278.2 206.45 L278.5 206.5 L278.8 206.54 L279.1 206.59 L279.4 206.64 L279.7 206.68 L280 206.73 L280.3 206.77 L280.6 206.81 L280.9 206.86 L281.2 206.9 L281.5 206.94 L281.8 206.99 L282.1 207.03 L282.4 207.07 L282.7 207.11 L283 207.15 L283.3 207.19 L283.6 207.23 L283.9 207.27 L284.2 207.31 L284.5 207.35 L284.8 207.39 L285.1 207.43 L285.4 207.47 L285.7 207.51 L286 207.54 L286.3 207.58 L286.6 207.62 L286.9 207.65 L287.2 207.69 L287.5 207.72 L287.8 207.76 L288.1 207.79 L288.4 207.83 L288.7 207.86 L289 207.9 L289.3 207.93 L289.6 207.96 L289.9 208 L290.2 208.03 L290.5 208.06 L290.8 208.09 L291.1 208.12 L291.4 208.16 L291.7 208.19 L292 208.22 L292.3 208.25 L292.6 208.28 L292.9 208.31 L293.2 208.34 L293.5 208.36 L293.8 208.39 L294.1 208.42 L294.4 208.45 L294.7 208.48 L295 208.5 L295.3 208.53 L295.6 208.56 L295.9 208.58 L296.2 208.61 L296.5 208.64 L296.8 208.66 L297.1 208.69 L297.4 208.71 L297.7 208.74 L298 208.76 L298.3 208.78 L298.6 208.81 L298.9 208.83 L299.2 208.85 L299.5 208.88 L299.8 208.9 L300.1 208.92 L300.4 208.94 L300.7 208.97 L301 208.99 L301.3 209.01 L301.6 209.03 L301.9 209.05 L302.2 209.07 L302.5 209.09 L302.8 209.11 L303.1 209.13 L303.4 209.15 L303.7 209.17 L304 209.19 L304.3 209.2 L304.6 209.22 L304.9 209.24 L305.2 209.26 L305.5 209.28 L305.8 209.29 L306.1 209.31 L306.4 209.33 L306.7 209.34 L307 209.36 L307.3 209.37 L307.6 209.39 L307.9 209.41 L308.2 209.42 L308.5 209.44 L308.8 209.45 L309.1 209.46 L309.4 209.48 L309.7 209.49 L310 209.51 L310.3 209.52 L310.6 209.53 L310.9 209.55 L311.2 209.56 L311.5 209.57 L311.8 209.58 L312.1 209.6 L312.4 209.61 L312.7 209.62 L313 209.63 L313.3 209.64 L313.6 209.65 L313.9 209.66 L314.2 209.68 L314.5 209.69 L314.8 209.7 L315.1 209.71 L315.4 209.72 L315.7 209.73 L316 209.74 L316.3 209.74 L316.6 209.75 L316.9 209.76 L317.2 209.77 L317.5 209.78 L317.8 209.79 L318.1 209.8 L318.4 209.8 L318.7 209.81 L319 209.82 L319.3 209.83 L319.6 209.83 L319.9 209.84 L320.2 209.85 L320.5 209.85 L320.8 209.86 L321.1 209.87 L321.4 209.87 L321.7 209.88 L322 209.89 L322.3 209.89 L322.6 209.9 L322.9 209.9 L323.2 209.91 L323.5 209.91 L323.8 209.92 L324.1 209.92 L324.4 209.93 L324.7 209.93 L325 209.94 L325.3 209.94 L325.6 209.94 L325.9 209.95 L326.2 209.95 L326.5 209.95 L326.8 209.96 L327.1 209.96 L327.4 209.96 L327.7 209.97 L328 209.97 L328.3 209.97 L328.6 209.98 L328.9 209.98 L329.2 209.98 L329.5 209.98 L329.8 209.99 L330.1 209.99 L330.4 209.99 L330.7 209.99 L331 209.99 L331.3 209.99 L331.6 209.99 L331.9 210 L332.2 210" fill="none" stroke="#ff0000" stroke-width="1.7" stroke-dasharray="3.6 2.4" stroke-linejoin="round"/>
</g>
<rect x="80.5" y="10.5" width="252" height="205" fill="none" stroke="#1a1a1a" stroke-width="1.1"/>
<path d="M80.5 210.1h-4M80.5 154.6h-4M80.5 99.1h-4M80.5 43.6h-4" stroke="#1a1a1a" stroke-width="1.1"/>
<path d="M80.5 182.35h-2M80.5 126.85h-2M80.5 71.35h-2M80.5 15.85h-2" stroke="#1a1a1a" stroke-width="1.1"/>
<path d="M127.45 215.5v4M206.2 215.5v4M284.95 215.5v4" stroke="#1a1a1a" stroke-width="1.1"/>
<path d="M88.08 215.5v2M166.82 215.5v2M245.57 215.5v2M324.32 215.5v2" stroke="#1a1a1a" stroke-width="1.1"/>
<path d="M84.1 23.5H105.7" stroke="#000" stroke-width="1.5"/>
<path d="M84.1 38.9H103" stroke="#000" stroke-width="1.6" stroke-dasharray="6.4 6"/>
<path d="M83.5 52.7H105.7" stroke="#ff0000" stroke-width="1.5"/>
<path d="M83.5 69.1H102.3" stroke="#ff0000" stroke-width="1.6" stroke-dasharray="6.4 6"/>
<clipPath id="cb"><rect x="423.1" y="23.4" width="260.9" height="192.2"/></clipPath>
<path d="M480.1 115.5L659.4 31.5" stroke="#0000ff" stroke-width="1.6" stroke-dasharray="7 6.65"/>
<g clip-path="url(#cb)">
<rect x="555.49" y="195.17" width="5.4" height="5.4" fill="#000"/><rect x="559.92" y="178.32" width="5.4" height="5.4" fill="#000"/><rect x="563" y="166.7" width="5.4" height="5.4" fill="#000"/><rect x="564.17" y="161.34" width="5.4" height="5.4" fill="#000"/><rect x="566.26" y="151.36" width="5.4" height="5.4" fill="#000"/><rect x="570.68" y="134.16" width="5.4" height="5.4" fill="#000"/><rect x="576.46" y="111.38" width="5.4" height="5.4" fill="#000"/><rect x="577.84" y="105.91" width="5.4" height="5.4" fill="#000"/><rect x="583.36" y="89.99" width="5.4" height="5.4" fill="#000"/><rect x="584.83" y="81.6" width="5.4" height="5.4" fill="#000"/><rect x="596.55" y="72.97" width="5.4" height="5.4" fill="#000"/><rect x="601.85" y="66.42" width="5.4" height="5.4" fill="#000"/><rect x="607.27" y="64.96" width="5.4" height="5.4" fill="#000"/><rect x="612" y="61.76" width="5.4" height="5.4" fill="#000"/><rect x="618.6" y="56.93" width="5.4" height="5.4" fill="#000"/><rect x="628.32" y="50.34" width="5.4" height="5.4" fill="#000"/><rect x="637.48" y="44.37" width="5.4" height="5.4" fill="#000"/><rect x="644.29" y="39.02" width="5.4" height="5.4" fill="#000"/><rect x="647.81" y="36.95" width="5.4" height="5.4" fill="#000"/><rect x="659.74" y="31.31" width="5.4" height="5.4" fill="#000"/><circle cx="480.46" cy="190.22" r="3.2" fill="#ff0000"/><circle cx="489.93" cy="185.27" r="3.2" fill="#ff0000"/><circle cx="496" cy="180" r="3.2" fill="#ff0000"/><circle cx="507.55" cy="172.14" r="3.2" fill="#ff0000"/><circle cx="518.05" cy="165.74" r="3.2" fill="#ff0000"/><circle cx="532.33" cy="155.91" r="3.2" fill="#ff0000"/><circle cx="551.73" cy="143.17" r="3.2" fill="#ff0000"/><circle cx="562.62" cy="133.97" r="3.2" fill="#ff0000"/><circle cx="573.47" cy="124.04" r="3.2" fill="#ff0000"/><circle cx="580.54" cy="116.17" r="3.2" fill="#ff0000"/><circle cx="586.06" cy="102.3" r="3.2" fill="#ff0000"/><circle cx="588.7" cy="95.21" r="3.2" fill="#ff0000"/><circle cx="597.38" cy="76.07" r="3.2" fill="#ff0000"/><circle cx="599.25" cy="73.34" r="3.2" fill="#ff0000"/><circle cx="604.46" cy="66.48" r="3.2" fill="#ff0000"/><circle cx="609.97" cy="65.05" r="3.2" fill="#ff0000"/><circle cx="614.4" cy="61.86" r="3.2" fill="#ff0000"/><circle cx="621.3" cy="56.81" r="3.2" fill="#ff0000"/><circle cx="631.02" cy="50.91" r="3.2" fill="#ff0000"/><circle cx="640.18" cy="45.76" r="3.2" fill="#ff0000"/><circle cx="646.99" cy="42.34" r="3.2" fill="#ff0000"/><circle cx="650.51" cy="40.89" r="3.2" fill="#ff0000"/><circle cx="662.44" cy="35.25" r="3.2" fill="#ff0000"/><path d="M444.75 188.62L448.55 195.22L440.95 195.22Z" fill="#00ff00"/><path d="M452.91 184.15L456.71 190.75L449.11 190.75Z" fill="#00ff00"/><path d="M458.89 181.11L462.69 187.71L455.09 187.71Z" fill="#00ff00"/><path d="M470.14 172.64L473.94 179.24L466.34 179.24Z" fill="#00ff00"/><path d="M481.33 164.13L485.13 170.73L477.53 170.73Z" fill="#00ff00"/><path d="M492.57 152.77L496.37 159.37L488.77 159.37Z" fill="#00ff00"/><path d="M499.73 149.18L503.53 155.78L495.93 155.78Z" fill="#00ff00"/><path d="M508.89 141.49L512.69 148.09L505.09 148.09Z" fill="#00ff00"/><path d="M521.3 133.78L525.1 140.38L517.5 140.38Z" fill="#00ff00"/><path d="M528.2 128.53L532 135.13L524.4 135.13Z" fill="#00ff00"/><path d="M535.5 122.2L539.3 128.8L531.7 128.8Z" fill="#00ff00"/><path d="M540.4 118.23L544.2 124.83L536.6 124.83Z" fill="#00ff00"/><path d="M550.34 110.03L554.14 116.63L546.54 116.63Z" fill="#00ff00"/><path d="M562.06 102.16L565.86 108.76L558.26 108.76Z" fill="#00ff00"/><path d="M572.78 95.38L576.58 101.98L568.98 101.98Z" fill="#00ff00"/><path d="M582.02 89.44L585.82 96.04L578.22 96.04Z" fill="#00ff00"/><path d="M589.01 84.9L592.81 91.5L585.21 91.5Z" fill="#00ff00"/><path d="M594.43 81.72L598.23 88.32L590.63 88.32Z" fill="#00ff00"/><path d="M601.81 74.73L605.61 81.33L598.01 81.33Z" fill="#00ff00"/><path d="M608.49 70L612.29 76.6L604.69 76.6Z" fill="#00ff00"/><path d="M618.74 62.96L622.54 69.56L614.94 69.56Z" fill="#00ff00"/><path d="M631.02 53.45L634.82 60.05L627.22 60.05Z" fill="#00ff00"/><path d="M640.18 47.48L643.98 54.08L636.38 54.08Z" fill="#00ff00"/><path d="M647.29 42.88L651.09 49.48L643.49 49.48Z" fill="#00ff00"/><path d="M650.51 40.54L654.31 47.14L646.71 47.14Z" fill="#00ff00"/><path d="M662.44 33.87L666.24 40.47L658.64 40.47Z" fill="#00ff00"/>
</g>
<rect x="423" y="23.5" width="261" height="192" fill="none" stroke="#1a1a1a" stroke-width="1.1"/>
<path d="M423 213.9h-4M423 193.4h-4M423 172.9h-4M423 152.4h-4M423 131.9h-4M423 111.4h-4M423 90.9h-4M423 70.4h-4M423 49.9h-4M423 29.4h-4" stroke="#1a1a1a" stroke-width="1.1"/>
<path d="M423 207.73h-2M423 201.56h-2M423 197.95h-2M423 195.39h-2M423 187.23h-2M423 181.06h-2M423 177.45h-2M423 174.89h-2M423 166.73h-2M423 160.56h-2M423 156.95h-2M423 154.39h-2M423 146.23h-2M423 140.06h-2M423 136.45h-2M423 133.89h-2M423 125.73h-2M423 119.56h-2M423 115.95h-2M423 113.39h-2M423 105.23h-2M423 99.06h-2M423 95.45h-2M423 92.89h-2M423 84.73h-2M423 78.56h-2M423 74.95h-2M423 72.39h-2M423 64.23h-2M423 58.06h-2M423 54.45h-2M423 51.89h-2M423 43.73h-2M423 37.56h-2M423 33.95h-2M423 31.39h-2" stroke="#1a1a1a" stroke-width="1.1"/>
<path d="M453.6 215.5v4M497 215.5v4M540.4 215.5v4M583.8 215.5v4M627.2 215.5v4M670.6 215.5v4" stroke="#1a1a1a" stroke-width="1.1"/>
<path d="M423.26 215.5v2M436.33 215.5v2M443.97 215.5v2M449.39 215.5v2M466.66 215.5v2M479.73 215.5v2M487.37 215.5v2M492.79 215.5v2M510.06 215.5v2M523.13 215.5v2M530.77 215.5v2M536.19 215.5v2M553.46 215.5v2M566.53 215.5v2M574.17 215.5v2M579.59 215.5v2M596.86 215.5v2M609.93 215.5v2M617.57 215.5v2M622.99 215.5v2M640.26 215.5v2M653.33 215.5v2M660.97 215.5v2M666.39 215.5v2M683.66 215.5v2" stroke="#1a1a1a" stroke-width="1.1"/>
<rect x="441.2" y="33" width="5.6" height="5.6" fill="#000"/><circle cx="444" cy="50.2" r="3.2" fill="#ff0000"/><path d="M444 62.7L446.9 67.5L441.1 67.5Z" fill="#00ff00"/>
<path d="M606.8 123.3H635.4" stroke="#0000ff" stroke-width="1.6" stroke-dasharray="6.8 5.6"/>
<g>
<rect x="214.98" y="471.3" width="5.4" height="5.4" fill="#000"/><rect x="219.48" y="449.8" width="5.4" height="5.4" fill="#000"/><rect x="222.61" y="435" width="5.4" height="5.4" fill="#000"/><rect x="223.8" y="428" width="5.4" height="5.4" fill="#000"/><rect x="225.92" y="414.9" width="5.4" height="5.4" fill="#000"/><rect x="230.42" y="392.9" width="5.4" height="5.4" fill="#000"/><rect x="236.28" y="363.7" width="5.4" height="5.4" fill="#000"/><rect x="237.69" y="356.7" width="5.4" height="5.4" fill="#000"/><rect x="243.29" y="337.3" width="5.4" height="5.4" fill="#000"/><rect x="244.79" y="326.1" width="5.4" height="5.4" fill="#000"/><rect x="256.7" y="321.6" width="5.4" height="5.4" fill="#000"/><rect x="262.08" y="315.7" width="5.4" height="5.4" fill="#000"/><rect x="267.59" y="317.3" width="5.4" height="5.4" fill="#000"/><rect x="272.4" y="315.9" width="5.4" height="5.4" fill="#000"/><rect x="279.1" y="313.4" width="5.4" height="5.4" fill="#000"/><rect x="288.98" y="310.5" width="5.4" height="5.4" fill="#000"/><rect x="298.29" y="308.1" width="5.4" height="5.4" fill="#000"/><rect x="305.21" y="305" width="5.4" height="5.4" fill="#000"/><rect x="308.78" y="304.4" width="5.4" height="5.4" fill="#000"/><rect x="320.91" y="304.4" width="5.4" height="5.4" fill="#000"/><circle cx="138.7" cy="409.4" r="3.2" fill="#ff0000"/><circle cx="148.31" cy="408.7" r="3.2" fill="#ff0000"/><circle cx="154.49" cy="405.2" r="3.2" fill="#ff0000"/><circle cx="166.22" cy="401.7" r="3.2" fill="#ff0000"/><circle cx="176.89" cy="399.6" r="3.2" fill="#ff0000"/><circle cx="191.4" cy="395.1" r="3.2" fill="#ff0000"/><circle cx="211.11" cy="389.9" r="3.2" fill="#ff0000"/><circle cx="222.18" cy="384" r="3.2" fill="#ff0000"/><circle cx="233.2" cy="377" r="3.2" fill="#ff0000"/><circle cx="240.39" cy="370.4" r="3.2" fill="#ff0000"/><circle cx="245.99" cy="354" r="3.2" fill="#ff0000"/><circle cx="248.68" cy="345.5" r="3.2" fill="#ff0000"/><circle cx="257.5" cy="323.6" r="3.2" fill="#ff0000"/><circle cx="259.4" cy="320.9" r="3.2" fill="#ff0000"/><circle cx="264.69" cy="314.5" r="3.2" fill="#ff0000"/><circle cx="270.29" cy="316.2" r="3.2" fill="#ff0000"/><circle cx="274.79" cy="314.6" r="3.2" fill="#ff0000"/><circle cx="281.8" cy="312" r="3.2" fill="#ff0000"/><circle cx="291.68" cy="310.1" r="3.2" fill="#ff0000"/><circle cx="300.99" cy="308.9" r="3.2" fill="#ff0000"/><circle cx="307.91" cy="308.6" r="3.2" fill="#ff0000"/><circle cx="311.48" cy="308.9" r="3.2" fill="#ff0000"/><circle cx="323.61" cy="308.9" r="3.2" fill="#ff0000"/><path d="M102.4 384L106.2 390.6L98.6 390.6Z" fill="#00ff00"/><path d="M110.69 383.1L114.49 389.7L106.89 389.7Z" fill="#00ff00"/><path d="M116.78 382.8L120.58 389.4L112.98 389.4Z" fill="#00ff00"/><path d="M128.2 378.2L132 384.8L124.4 384.8Z" fill="#00ff00"/><path d="M139.58 373.5L143.38 380.1L135.78 380.1Z" fill="#00ff00"/><path d="M151 364.7L154.8 371.3L147.2 371.3Z" fill="#00ff00"/><path d="M158.28 364.4L162.08 371L154.48 371Z" fill="#00ff00"/><path d="M167.58 359.5L171.38 366.1L163.78 366.1Z" fill="#00ff00"/><path d="M180.2 356.8L184 363.4L176.4 363.4Z" fill="#00ff00"/><path d="M187.21 353.9L191.01 360.5L183.41 360.5Z" fill="#00ff00"/><path d="M194.62 349.7L198.42 356.3L190.82 356.3Z" fill="#00ff00"/><path d="M199.6 347.3L203.4 353.9L195.8 353.9Z" fill="#00ff00"/><path d="M209.7 342.2L213.5 348.8L205.9 348.8Z" fill="#00ff00"/><path d="M221.61 338.8L225.41 345.4L217.81 345.4Z" fill="#00ff00"/><path d="M232.5 336.3L236.3 342.9L228.7 342.9Z" fill="#00ff00"/><path d="M241.89 334L245.69 340.6L238.09 340.6Z" fill="#00ff00"/><path d="M248.99 332.2L252.79 338.8L245.19 338.8Z" fill="#00ff00"/><path d="M254.5 331.3L258.3 337.9L250.7 337.9Z" fill="#00ff00"/><path d="M262 326.2L265.8 332.8L258.2 332.8Z" fill="#00ff00"/><path d="M268.79 323.9L272.59 330.5L264.99 330.5Z" fill="#00ff00"/><path d="M279.2 320.7L283 327.3L275.4 327.3Z" fill="#00ff00"/><path d="M291.68 315.3L295.48 321.9L287.88 321.9Z" fill="#00ff00"/><path d="M300.99 312.9L304.79 319.5L297.19 319.5Z" fill="#00ff00"/><path d="M308.22 311.1L312.02 317.7L304.42 317.7Z" fill="#00ff00"/><path d="M311.48 309.9L315.28 316.5L307.68 316.5Z" fill="#00ff00"/><path d="M323.61 308.4L327.41 315L319.81 315Z" fill="#00ff00"/>
</g>
<rect x="80.5" y="296.5" width="259.3" height="191" fill="none" stroke="#1a1a1a" stroke-width="1.1"/>
<path d="M80.5 484.5h-4M80.5 454.65h-4M80.5 424.8h-4M80.5 394.95h-4M80.5 365.1h-4M80.5 335.25h-4M80.5 305.4h-4" stroke="#1a1a1a" stroke-width="1.1"/>
<path d="M80.5 487.39h-2M80.5 475.51h-2M80.5 466.53h-2M80.5 461.27h-2M80.5 457.54h-2M80.5 445.66h-2M80.5 436.68h-2M80.5 431.42h-2M80.5 427.69h-2M80.5 415.81h-2M80.5 406.83h-2M80.5 401.57h-2M80.5 397.84h-2M80.5 385.96h-2M80.5 376.98h-2M80.5 371.72h-2M80.5 367.99h-2M80.5 356.11h-2M80.5 347.13h-2M80.5 341.87h-2M80.5 338.14h-2M80.5 326.26h-2M80.5 317.28h-2M80.5 312.02h-2M80.5 308.29h-2" stroke="#1a1a1a" stroke-width="1.1"/>
<path d="M111.4 487.5v4M155.5 487.5v4M199.6 487.5v4M243.7 487.5v4M287.8 487.5v4M331.9 487.5v4" stroke="#1a1a1a" stroke-width="1.1"/>
<path d="M80.58 487.5v2M93.85 487.5v2M101.62 487.5v2M107.13 487.5v2M124.68 487.5v2M137.95 487.5v2M145.72 487.5v2M151.23 487.5v2M168.78 487.5v2M182.05 487.5v2M189.82 487.5v2M195.33 487.5v2M212.88 487.5v2M226.15 487.5v2M233.92 487.5v2M239.43 487.5v2M256.98 487.5v2M270.25 487.5v2M278.02 487.5v2M283.53 487.5v2M301.08 487.5v2M314.35 487.5v2M322.12 487.5v2M327.63 487.5v2" stroke="#1a1a1a" stroke-width="1.1"/>
<rect x="99.4" y="308" width="5.2" height="5.2" fill="#000"/><circle cx="102" cy="325" r="3.1" fill="#ff0000"/><path d="M102 335.6L105.8 341.8L98.2 341.8Z" fill="#00ff00"/>
<circle cx="469.88" cy="424.8" r="3.2" fill="#ff0000"/><circle cx="479.85" cy="424.1" r="3.2" fill="#ff0000"/><circle cx="486.25" cy="420.1" r="3.2" fill="#ff0000"/><circle cx="498.41" cy="415.9" r="3.2" fill="#ff0000"/><circle cx="509.47" cy="412.9" r="3.2" fill="#ff0000"/><circle cx="524.52" cy="408.2" r="3.2" fill="#ff0000"/><circle cx="544.95" cy="401.7" r="3.2" fill="#ff0000"/><circle cx="556.43" cy="394.9" r="3.2" fill="#ff0000"/><circle cx="567.86" cy="387" r="3.2" fill="#ff0000"/><circle cx="575.31" cy="379" r="3.2" fill="#ff0000"/><circle cx="581.12" cy="360.2" r="3.2" fill="#ff0000"/><circle cx="583.91" cy="350.3" r="3.2" fill="#ff0000"/><circle cx="593.05" cy="324" r="3.2" fill="#ff0000"/><circle cx="595.02" cy="319.5" r="3.2" fill="#ff0000"/><circle cx="600.5" cy="314" r="3.2" fill="#ff0000"/><circle cx="606.31" cy="314" r="3.2" fill="#ff0000"/><circle cx="610.97" cy="312" r="3.2" fill="#ff0000"/><circle cx="618.24" cy="309.4" r="3.2" fill="#ff0000"/><circle cx="628.48" cy="310.6" r="3.2" fill="#ff0000"/><circle cx="638.13" cy="307" r="3.2" fill="#ff0000"/><circle cx="645.31" cy="306.5" r="3.2" fill="#ff0000"/><circle cx="649.01" cy="308.4" r="3.2" fill="#ff0000"/><circle cx="661.58" cy="308" r="3.2" fill="#ff0000"/><rect x="553.73" y="468.3" width="5.4" height="5.4" fill="#000"/><rect x="556.97" y="452.8" width="5.4" height="5.4" fill="#000"/><rect x="558.21" y="444.7" width="5.4" height="5.4" fill="#000"/><rect x="560.4" y="428.9" width="5.4" height="5.4" fill="#000"/><rect x="565.07" y="403.7" width="5.4" height="5.4" fill="#000"/><rect x="571.15" y="370" width="5.4" height="5.4" fill="#000"/><rect x="572.61" y="361.3" width="5.4" height="5.4" fill="#000"/><rect x="578.42" y="337.9" width="5.4" height="5.4" fill="#000"/><rect x="579.97" y="326" width="5.4" height="5.4" fill="#000"/><rect x="592.32" y="320.1" width="5.4" height="5.4" fill="#000"/><rect x="603.61" y="315.8" width="5.4" height="5.4" fill="#000"/><rect x="608.59" y="314" width="5.4" height="5.4" fill="#000"/><rect x="615.54" y="311.3" width="5.4" height="5.4" fill="#000"/><rect x="625.78" y="304.7" width="5.4" height="5.4" fill="#000"/><rect x="635.43" y="303.2" width="5.4" height="5.4" fill="#000"/><rect x="642.61" y="302.1" width="5.4" height="5.4" fill="#000"/><rect x="646.31" y="301.3" width="5.4" height="5.4" fill="#000"/><rect x="658.88" y="300.9" width="5.4" height="5.4" fill="#000"/>
<path d="M556.1 476 L556.3 475.8 L556.5 475.6 L556.7 475.39 L556.9 475.18 L557.1 474.96 L557.3 474.74 L557.5 474.52 L557.7 474.29 L557.9 474.06 L558.1 473.83 L558.3 473.59 L558.5 473.35 L558.7 473.11 L558.9 472.86 L559.1 472.61 L559.3 472.36 L559.5 472.11 L559.7 471.85 L559.9 471.59 L560.1 471.33 L560.3 471.06 L560.5 470.79 L560.7 470.52 L560.9 470.25 L561.1 469.98 L561.3 469.7 L561.5 469.42 L561.7 469.14 L561.9 468.86 L562.1 468.57 L562.3 468.28 L562.5 467.99 L562.7 467.69 L562.9 467.39 L563.1 467.08 L563.3 466.77 L563.5 466.45 L563.7 466.13 L563.9 465.8 L564.1 465.47 L564.3 465.13 L564.5 464.79 L564.7 464.44 L564.9 464.09 L565.1 463.73 L565.3 463.37 L565.5 463 L565.7 462.64 L565.9 462.31 L566.1 461.99 L566.3 461.68 L566.5 461.36 L566.7 461.03 L566.9 460.68 L567.1 460.29 L567.3 459.87 L567.5 459.39 L567.7 458.86 L567.9 458.25 L568.1 457.57 L568.3 456.74 L568.5 455.38 L568.7 453.56 L568.9 451.41 L569.1 449.05 L569.3 446.61 L569.5 444.14 L569.7 441.32 L569.9 438.18 L570.1 434.83 L570.3 431.39 L570.5 427.96 L570.7 424.66 L570.9 421.61 L571.1 418.86 L571.3 416.24 L571.5 413.73 L571.7 411.29 L571.9 408.92 L572.1 406.62 L572.3 404.37 L572.5 402.17 L572.7 400 L572.9 397.92 L573.1 395.93 L573.3 393.99 L573.5 392.04 L573.7 390 L573.9 387.86 L574.1 385.65 L574.3 383.39 L574.5 381.11 L574.7 378.81 L574.9 376.53 L575.1 374.29 L575.3 372.11 L575.5 370 L575.7 367.9 L575.9 365.74 L576.1 363.56 L576.3 361.4 L576.5 359.31 L576.7 357.32 L576.9 355.48 L577.1 353.83 L577.3 352.41 L577.5 351.23 L577.7 350.16 L577.9 349.16 L578.1 348.22 L578.3 347.35 L578.5 346.52 L578.7 345.74 L578.9 345 L579.1 344.29 L579.3 343.61 L579.5 342.94 L579.7 342.29 L579.9 341.64 L580.1 340.99 L580.3 340.33 L580.5 339.66 L580.7 338.98 L580.9 338.3 L581.1 337.63 L581.3 336.97 L581.5 336.32 L581.7 335.7 L581.9 335.11 L582.1 334.56 L582.3 334.05 L582.5 333.6 L582.7 333.2 L582.9 332.84 L583.1 332.5 L583.3 332.17 L583.5 331.86 L583.7 331.56 L583.9 331.27 L584.1 330.99 L584.3 330.73 L584.5 330.47 L584.7 330.23 L584.9 329.99 L585.1 329.76 L585.3 329.54 L585.5 329.32 L585.7 329.11 L585.9 328.9 L586.1 328.7 L586.3 328.49 L586.5 328.29 L586.7 328.1 L586.9 327.9 L587.1 327.7 L587.3 327.5 L587.5 327.3 L587.7 327.11 L587.9 326.92 L588.1 326.72 L588.3 326.54 L588.5 326.35 L588.7 326.17 L588.9 325.98 L589.1 325.81 L589.3 325.63 L589.5 325.45 L589.7 325.28 L589.9 325.11 L590.1 324.94 L590.3 324.77 L590.5 324.61 L590.7 324.44 L590.9 324.28 L591.1 324.12 L591.3 323.96 L591.5 323.81 L591.7 323.65 L591.9 323.5 L592.1 323.35 L592.3 323.2 L592.5 323.05 L592.7 322.91 L592.9 322.76 L593.1 322.62 L593.3 322.48 L593.5 322.34 L593.7 322.2 L593.9 322.07 L594.1 321.93 L594.3 321.8 L594.5 321.67 L594.7 321.53 L594.9 321.4 L595.1 321.28 L595.3 321.15 L595.5 321.02 L595.7 320.9 L595.9 320.78 L596.1 320.65 L596.3 320.53 L596.5 320.41 L596.7 320.29 L596.9 320.18 L597.1 320.06 L597.3 319.95 L597.5 319.83 L597.7 319.72 L597.9 319.61 L598.1 319.5 L598.3 319.39 L598.5 319.28 L598.7 319.18 L598.9 319.07 L599.1 318.97 L599.3 318.86 L599.5 318.76 L599.7 318.66 L599.9 318.56 L600.1 318.46 L600.3 318.37 L600.5 318.27 L600.7 318.18 L600.9 318.08 L601.1 317.99 L601.3 317.9 L601.5 317.81 L601.7 317.72 L601.9 317.63 L602.1 317.54 L602.3 317.45 L602.5 317.37 L602.7 317.28 L602.9 317.19 L603.1 317.11 L603.3 317.02 L603.5 316.94 L603.7 316.85 L603.9 316.77 L604.1 316.69 L604.3 316.61 L604.5 316.52 L604.7 316.44 L604.9 316.36 L605.1 316.28 L605.3 316.21 L605.5 316.13 L605.7 316.05 L605.9 315.98 L606.1 315.9 L606.3 315.83 L606.5 315.75 L606.7 315.68 L606.9 315.61 L607.1 315.54 L607.3 315.47 L607.5 315.4 L607.7 315.33 L607.9 315.26 L608.1 315.19 L608.3 315.13 L608.5 315.06 L608.7 315 L608.9 314.93 L609.1 314.87 L609.3 314.81 L609.5 314.75 L609.7 314.69 L609.9 314.63 L610.1 314.57 L610.3 314.51 L610.5 314.46 L610.7 314.4 L610.9 314.35 L611.1 314.29 L611.3 314.24 L611.5 314.18 L611.7 314.13 L611.9 314.08 L612.1 314.02 L612.3 313.97 L612.5 313.92 L612.7 313.87 L612.9 313.82 L613.1 313.77 L613.3 313.72 L613.5 313.67 L613.7 313.62 L613.9 313.58 L614.1 313.53 L614.3 313.48 L614.5 313.44 L614.7 313.39 L614.9 313.35 L615.1 313.3 L615.3 313.26 L615.5 313.22 L615.7 313.17 L615.9 313.13 L616.1 313.09 L616.3 313.05 L616.5 313.01 L616.7 312.97 L616.9 312.93 L617.1 312.89 L617.3 312.85 L617.5 312.81 L617.7 312.77 L617.9 312.74 L618.1 312.7 L618.3 312.66 L618.5 312.63 L618.7 312.59 L618.9 312.56 L619.1 312.52 L619.3 312.49 L619.5 312.45 L619.7 312.42 L619.9 312.38 L620.1 312.35 L620.3 312.32 L620.5 312.28 L620.7 312.25 L620.9 312.22 L621.1 312.19 L621.3 312.15 L621.5 312.12 L621.7 312.09 L621.9 312.06 L622.1 312.03 L622.3 312 L622.5 311.97 L622.7 311.93 L622.9 311.9 L623.1 311.87 L623.3 311.84 L623.5 311.81 L623.7 311.79 L623.9 311.76 L624.1 311.73 L624.3 311.7 L624.5 311.67 L624.7 311.64 L624.9 311.61 L625.1 311.58 L625.3 311.56 L625.5 311.53 L625.7 311.5 L625.9 311.47 L626.1 311.44 L626.3 311.42 L626.5 311.39 L626.7 311.36 L626.9 311.34 L627.1 311.31 L627.3 311.28 L627.5 311.26 L627.7 311.23 L627.9 311.2 L628.1 311.18 L628.3 311.15 L628.5 311.12 L628.7 311.1 L628.9 311.07 L629.1 311.05 L629.3 311.02 L629.5 310.99 L629.7 310.97 L629.9 310.94 L630.1 310.92 L630.3 310.89 L630.5 310.87 L630.7 310.84 L630.9 310.82 L631.1 310.79 L631.3 310.77 L631.5 310.74 L631.7 310.72 L631.9 310.69 L632.1 310.66 L632.3 310.64 L632.5 310.61 L632.7 310.59 L632.9 310.56 L633.1 310.54 L633.3 310.51 L633.5 310.49 L633.7 310.46 L633.9 310.44 L634.1 310.41 L634.3 310.39 L634.5 310.36 L634.7 310.34 L634.9 310.31 L635.1 310.29 L635.3 310.26 L635.5 310.24 L635.7 310.21 L635.9 310.19 L636.1 310.16 L636.3 310.14 L636.5 310.11 L636.7 310.09 L636.9 310.06 L637.1 310.04 L637.3 310.01 L637.5 309.99 L637.7 309.96 L637.9 309.94 L638.1 309.91 L638.3 309.89 L638.5 309.86 L638.7 309.84 L638.9 309.81 L639.1 309.79 L639.3 309.76 L639.5 309.74 L639.7 309.72 L639.9 309.69 L640.1 309.67 L640.3 309.64 L640.5 309.62 L640.7 309.6 L640.9 309.57 L641.1 309.55 L641.3 309.52 L641.5 309.5 L641.7 309.48 L641.9 309.45 L642.1 309.43 L642.3 309.41 L642.5 309.39 L642.7 309.36 L642.9 309.34 L643.1 309.32 L643.3 309.29 L643.5 309.27 L643.7 309.25 L643.9 309.23 L644.1 309.2 L644.3 309.18 L644.5 309.16 L644.7 309.14 L644.9 309.12 L645.1 309.1 L645.3 309.07 L645.5 309.05 L645.7 309.03 L645.9 309.01 L646.1 308.99 L646.3 308.97 L646.5 308.95 L646.7 308.93 L646.9 308.91 L647.1 308.89 L647.3 308.87 L647.5 308.85 L647.7 308.83 L647.9 308.81 L648.1 308.79 L648.3 308.77 L648.5 308.75 L648.7 308.73 L648.9 308.71 L649.1 308.69 L649.3 308.68 L649.5 308.66 L649.7 308.64 L649.9 308.62 L650.1 308.6 L650.3 308.58 L650.5 308.56 L650.7 308.54 L650.9 308.53 L651.1 308.51 L651.3 308.49 L651.5 308.47 L651.7 308.45 L651.9 308.44 L652.1 308.42 L652.3 308.4 L652.5 308.38 L652.7 308.36 L652.9 308.35 L653.1 308.33 L653.3 308.31 L653.5 308.29 L653.7 308.28 L653.9 308.26 L654.1 308.24 L654.3 308.22 L654.5 308.21 L654.7 308.19 L654.9 308.17 L655.1 308.16 L655.3 308.14 L655.5 308.12 L655.7 308.11 L655.9 308.09 L656.1 308.07 L656.3 308.06 L656.5 308.04 L656.7 308.02 L656.9 308.01 L657.1 307.99 L657.3 307.98 L657.5 307.96 L657.7 307.95 L657.9 307.93 L658.1 307.91 L658.3 307.9 L658.5 307.88 L658.7 307.87 L658.9 307.85 L659.1 307.84 L659.3 307.82 L659.5 307.81 L659.7 307.79 L659.9 307.78 L660.1 307.77 L660.3 307.75 L660.5 307.74 L660.7 307.72 L660.9 307.71 L661.1 307.69 L661.3 307.68 L661.5 307.67 L661.7 307.65 L661.9 307.64 L662.1 307.63 L662.3 307.61 L662.5 307.6" fill="none" stroke="#000" stroke-width="1.6" stroke-linejoin="round"/>
<path d="M469.8 424.6 L470.1 424.6 L470.4 424.59 L470.7 424.59 L471 424.58 L471.3 424.56 L471.6 424.55 L471.9 424.53 L472.2 424.51 L472.5 424.49 L472.8 424.46 L473.1 424.43 L473.4 424.4 L473.7 424.37 L474 424.34 L474.3 424.3 L474.6 424.26 L474.9 424.22 L475.2 424.18 L475.5 424.14 L475.8 424.09 L476.1 424.04 L476.4 424 L476.7 423.95 L477 423.89 L477.3 423.84 L477.6 423.79 L477.9 423.73 L478.2 423.68 L478.5 423.62 L478.8 423.56 L479.1 423.5 L479.4 423.44 L479.7 423.38 L480 423.3 L480.3 423.21 L480.6 423.11 L480.9 422.99 L481.2 422.86 L481.5 422.72 L481.8 422.58 L482.1 422.42 L482.4 422.26 L482.7 422.09 L483 421.92 L483.3 421.75 L483.6 421.57 L483.9 421.4 L484.2 421.22 L484.5 421.05 L484.8 420.89 L485.1 420.73 L485.4 420.57 L485.7 420.42 L486 420.29 L486.3 420.16 L486.6 420.03 L486.9 419.91 L487.2 419.79 L487.5 419.67 L487.8 419.54 L488.1 419.43 L488.4 419.31 L488.7 419.19 L489 419.07 L489.3 418.96 L489.6 418.84 L489.9 418.73 L490.2 418.61 L490.5 418.5 L490.8 418.39 L491.1 418.28 L491.4 418.17 L491.7 418.06 L492 417.95 L492.3 417.84 L492.6 417.74 L492.9 417.63 L493.2 417.53 L493.5 417.42 L493.8 417.32 L494.1 417.22 L494.4 417.11 L494.7 417.01 L495 416.91 L495.3 416.81 L495.6 416.72 L495.9 416.62 L496.2 416.52 L496.5 416.42 L496.8 416.33 L497.1 416.23 L497.4 416.14 L497.7 416.05 L498 415.95 L498.3 415.86 L498.6 415.77 L498.9 415.68 L499.2 415.59 L499.5 415.5 L499.8 415.42 L500.1 415.33 L500.4 415.25 L500.7 415.17 L501 415.09 L501.3 415.01 L501.6 414.93 L501.9 414.85 L502.2 414.77 L502.5 414.69 L502.8 414.62 L503.1 414.54 L503.4 414.46 L503.7 414.39 L504 414.31 L504.3 414.24 L504.6 414.16 L504.9 414.09 L505.2 414.01 L505.5 413.93 L505.8 413.86 L506.1 413.78 L506.4 413.71 L506.7 413.63 L507 413.55 L507.3 413.47 L507.6 413.39 L507.9 413.31 L508.2 413.23 L508.5 413.15 L508.8 413.07 L509.1 412.99 L509.4 412.9 L509.7 412.81 L510 412.73 L510.3 412.64 L510.6 412.55 L510.9 412.46 L511.2 412.38 L511.5 412.29 L511.8 412.2 L512.1 412.11 L512.4 412.02 L512.7 411.93 L513 411.83 L513.3 411.74 L513.6 411.65 L513.9 411.56 L514.2 411.46 L514.5 411.37 L514.8 411.28 L515.1 411.18 L515.4 411.09 L515.7 411 L516 410.9 L516.3 410.81 L516.6 410.71 L516.9 410.62 L517.2 410.52 L517.5 410.43 L517.8 410.33 L518.1 410.23 L518.4 410.14 L518.7 410.04 L519 409.95 L519.3 409.85 L519.6 409.76 L519.9 409.66 L520.2 409.56 L520.5 409.47 L520.8 409.37 L521.1 409.28 L521.4 409.18 L521.7 409.08 L522 408.99 L522.3 408.89 L522.6 408.8 L522.9 408.7 L523.2 408.61 L523.5 408.51 L523.8 408.42 L524.1 408.33 L524.4 408.23 L524.7 408.14 L525 408.04 L525.3 407.95 L525.6 407.86 L525.9 407.77 L526.2 407.68 L526.5 407.59 L526.8 407.5 L527.1 407.42 L527.4 407.33 L527.7 407.24 L528 407.16 L528.3 407.07 L528.6 406.98 L528.9 406.9 L529.2 406.82 L529.5 406.73 L529.8 406.65 L530.1 406.56 L530.4 406.48 L530.7 406.39 L531 406.31 L531.3 406.23 L531.6 406.14 L531.9 406.06 L532.2 405.98 L532.5 405.89 L532.8 405.81 L533.1 405.72 L533.4 405.64 L533.7 405.55 L534 405.47 L534.3 405.38 L534.6 405.3 L534.9 405.21 L535.2 405.13 L535.5 405.04 L535.8 404.95 L536.1 404.86 L536.4 404.77 L536.7 404.68 L537 404.59 L537.3 404.5 L537.6 404.41 L537.9 404.32 L538.2 404.22 L538.5 404.13 L538.8 404.03 L539.1 403.94 L539.4 403.84 L539.7 403.74 L540 403.64 L540.3 403.54 L540.6 403.44 L540.9 403.34 L541.2 403.23 L541.5 403.13 L541.8 403.02 L542.1 402.91 L542.4 402.8 L542.7 402.69 L543 402.58 L543.3 402.46 L543.6 402.35 L543.9 402.23 L544.2 402.11 L544.5 401.99 L544.8 401.87 L545.1 401.74 L545.4 401.62 L545.7 401.48 L546 401.35 L546.3 401.21 L546.6 401.06 L546.9 400.92 L547.2 400.77 L547.5 400.61 L547.8 400.45 L548.1 400.29 L548.4 400.13 L548.7 399.96 L549 399.79 L549.3 399.62 L549.6 399.44 L549.9 399.26 L550.2 399.08 L550.5 398.9 L550.8 398.72 L551.1 398.54 L551.4 398.35 L551.7 398.16 L552 397.97 L552.3 397.79 L552.6 397.6 L552.9 397.41 L553.2 397.21 L553.5 397.02 L553.8 396.83 L554.1 396.64 L554.4 396.45 L554.7 396.26 L555 396.07 L555.3 395.88 L555.6 395.7 L555.9 395.51 L556.2 395.33 L556.5 395.14 L556.8 394.96 L557.1 394.78 L557.4 394.6 L557.7 394.43 L558 394.25 L558.3 394.07 L558.6 393.9 L558.9 393.73 L559.2 393.55 L559.5 393.38 L559.8 393.2 L560.1 393.03 L560.4 392.85 L560.7 392.67 L561 392.49 L561.3 392.31 L561.6 392.12 L561.9 391.93 L562.2 391.74 L562.5 391.54 L562.8 391.34 L563.1 391.14 L563.4 390.93 L563.7 390.72 L564 390.5 L564.3 390.28 L564.6 390.06 L564.9 389.83 L565.2 389.6 L565.5 389.36 L565.8 389.12 L566.1 388.87 L566.4 388.61 L566.7 388.33 L567 388.05 L567.3 387.75 L567.6 387.44 L567.9 387.11 L568.2 386.77 L568.5 386.39 L568.8 385.99 L569.1 385.57 L569.4 385.12 L569.7 384.66 L570 384.17 L570.3 383.66 L570.6 383.14 L570.9 382.61 L571.2 382.05 L571.5 381.49 L571.8 380.92 L572.1 380.33 L572.4 379.74 L572.7 379.14 L573 378.54 L573.3 377.93 L573.6 377.32 L573.9 376.71 L574.2 376.1 L574.5 375.5 L574.8 374.89 L575.1 374.27 L575.4 373.64 L575.7 373.01 L576 372.37 L576.3 371.72 L576.6 371.06 L576.9 370.4 L577.2 369.72 L577.5 369.04 L577.8 368.35 L578.1 367.65 L578.4 366.93 L578.7 366.21 L579 365.48 L579.3 364.74 L579.6 363.98 L579.9 363.22 L580.2 362.44 L580.5 361.65 L580.8 360.85 L581.1 360.03 L581.4 359.21 L581.7 358.37 L582 357.51 L582.3 356.61 L582.6 355.65 L582.9 354.65 L583.2 353.61 L583.5 352.54 L583.8 351.46 L584.1 350.37 L584.4 349.27 L584.7 348.18 L585 347.1 L585.3 346.05 L585.6 345.02 L585.9 344.04 L586.2 343.1 L586.5 342.22 L586.8 341.37 L587.1 340.56 L587.4 339.78 L587.7 339.02 L588 338.27 L588.3 337.52 L588.6 336.77 L588.9 336 L589.2 335.22 L589.5 334.42 L589.8 333.58 L590.1 332.7 L590.4 331.73 L590.7 330.68 L591 329.6 L591.3 328.52 L591.6 327.46 L591.9 326.46 L592.2 325.57 L592.5 324.8 L592.8 324.13 L593.1 323.48 L593.4 322.87 L593.7 322.29 L594 321.75 L594.3 321.25 L594.6 320.79 L594.9 320.38 L595.2 320.01 L595.5 319.69 L595.8 319.38 L596.1 319.1 L596.4 318.83 L596.7 318.57 L597 318.33 L597.3 318.1 L597.6 317.88 L597.9 317.67 L598.2 317.47 L598.5 317.28 L598.8 317.09 L599.1 316.91 L599.4 316.74 L599.7 316.57 L600 316.4 L600.3 316.24 L600.6 316.08 L600.9 315.92 L601.2 315.77 L601.5 315.63 L601.8 315.49 L602.1 315.35 L602.4 315.22 L602.7 315.09 L603 314.96 L603.3 314.84 L603.6 314.72 L603.9 314.61 L604.2 314.49 L604.5 314.38 L604.8 314.27 L605.1 314.16 L605.4 314.06 L605.7 313.95 L606 313.85 L606.3 313.74 L606.6 313.64 L606.9 313.54 L607.2 313.44 L607.5 313.33 L607.8 313.23 L608.1 313.14 L608.4 313.04 L608.7 312.94 L609 312.84 L609.3 312.75 L609.6 312.65 L609.9 312.56 L610.2 312.47 L610.5 312.38 L610.8 312.28 L611.1 312.2 L611.4 312.11 L611.7 312.02 L612 311.94 L612.3 311.85 L612.6 311.77 L612.9 311.69 L613.2 311.61 L613.5 311.53 L613.8 311.45 L614.1 311.37 L614.4 311.3 L614.7 311.22 L615 311.15 L615.3 311.08 L615.6 311.01 L615.9 310.94 L616.2 310.88 L616.5 310.81 L616.8 310.75 L617.1 310.69 L617.4 310.63 L617.7 310.57 L618 310.52 L618.3 310.46 L618.6 310.41 L618.9 310.36 L619.2 310.31 L619.5 310.25 L619.8 310.2 L620.1 310.15 L620.4 310.11 L620.7 310.06 L621 310.01 L621.3 309.96 L621.6 309.92 L621.9 309.87 L622.2 309.83 L622.5 309.78 L622.8 309.74 L623.1 309.69 L623.4 309.65 L623.7 309.61 L624 309.57 L624.3 309.53 L624.6 309.48 L624.9 309.44 L625.2 309.4 L625.5 309.37 L625.8 309.33 L626.1 309.29 L626.4 309.25 L626.7 309.21 L627 309.18 L627.3 309.14 L627.6 309.1 L627.9 309.07 L628.2 309.03 L628.5 309 L628.8 308.96 L629.1 308.93 L629.4 308.89 L629.7 308.86 L630 308.83 L630.3 308.79 L630.6 308.76 L630.9 308.73 L631.2 308.7 L631.5 308.66 L631.8 308.63 L632.1 308.6 L632.4 308.57 L632.7 308.54 L633 308.51 L633.3 308.47 L633.6 308.44 L633.9 308.41 L634.2 308.38 L634.5 308.35 L634.8 308.32 L635.1 308.29 L635.4 308.26 L635.7 308.23 L636 308.2 L636.3 308.17 L636.6 308.14 L636.9 308.11 L637.2 308.08 L637.5 308.05 L637.8 308.03 L638.1 308 L638.4 307.97 L638.7 307.94 L639 307.91 L639.3 307.89 L639.6 307.86 L639.9 307.83 L640.2 307.81 L640.5 307.78 L640.8 307.75 L641.1 307.73 L641.4 307.7 L641.7 307.68 L642 307.65 L642.3 307.63 L642.6 307.6 L642.9 307.58 L643.2 307.55 L643.5 307.53 L643.8 307.51 L644.1 307.48 L644.4 307.46 L644.7 307.44 L645 307.41 L645.3 307.39 L645.6 307.37 L645.9 307.35 L646.2 307.33 L646.5 307.3 L646.8 307.28 L647.1 307.26 L647.4 307.24 L647.7 307.22 L648 307.2 L648.3 307.18 L648.6 307.16 L648.9 307.14 L649.2 307.12 L649.5 307.1 L649.8 307.08 L650.1 307.06 L650.4 307.04 L650.7 307.02 L651 307 L651.3 306.99 L651.6 306.97 L651.9 306.95 L652.2 306.93 L652.5 306.91 L652.8 306.89 L653.1 306.88 L653.4 306.86 L653.7 306.84 L654 306.82 L654.3 306.8 L654.6 306.79 L654.9 306.77 L655.2 306.75 L655.5 306.74 L655.8 306.72 L656.1 306.7 L656.4 306.69 L656.7 306.67 L657 306.66 L657.3 306.64 L657.6 306.62 L657.9 306.61 L658.2 306.59 L658.5 306.58 L658.8 306.56 L659.1 306.55 L659.4 306.54 L659.7 306.52 L660 306.51 L660.3 306.49 L660.6 306.48 L660.9 306.47 L661.2 306.45 L661.5 306.44 L661.8 306.43 L662.1 306.42 L662.4 306.4" fill="none" stroke="#ff0000" stroke-width="1.6" stroke-linejoin="round"/>
<path d="M432.25 402.7L436.05 409.3L428.45 409.3Z" fill="#00ff00"/><path d="M440.85 401.5L444.65 408.1L437.05 408.1Z" fill="#00ff00"/><path d="M447.16 401.2L450.96 407.8L443.36 407.8Z" fill="#00ff00"/><path d="M459 395.9L462.8 402.5L455.2 402.5Z" fill="#00ff00"/><path d="M470.8 390.7L474.6 397.3L467 397.3Z" fill="#00ff00"/><path d="M482.64 380.5L486.44 387.1L478.84 387.1Z" fill="#00ff00"/><path d="M490.18 379.3L493.98 385.9L486.38 385.9Z" fill="#00ff00"/><path d="M499.83 374L503.63 380.6L496.03 380.6Z" fill="#00ff00"/><path d="M512.9 370.9L516.7 377.5L509.1 377.5Z" fill="#00ff00"/><path d="M520.17 367.4L523.97 374L516.37 374Z" fill="#00ff00"/><path d="M527.85 363L531.65 369.6L524.05 369.6Z" fill="#00ff00"/><path d="M533.02 359.8L536.82 366.4L529.22 366.4Z" fill="#00ff00"/><path d="M543.49 353.7L547.29 360.3L539.69 360.3Z" fill="#00ff00"/><path d="M555.83 349.5L559.63 356.1L552.03 356.1Z" fill="#00ff00"/><path d="M567.13 346.5L570.93 353.1L563.33 353.1Z" fill="#00ff00"/><path d="M576.87 343.8L580.67 350.4L573.07 350.4Z" fill="#00ff00"/><path d="M584.23 341.9L588.03 348.5L580.43 348.5Z" fill="#00ff00"/><path d="M589.94 340.7L593.74 347.3L586.14 347.3Z" fill="#00ff00"/><path d="M597.71 335.1L601.51 341.7L593.91 341.7Z" fill="#00ff00"/><path d="M604.75 332.4L608.55 339L600.95 339Z" fill="#00ff00"/><path d="M615.54 328.3L619.34 334.9L611.74 334.9Z" fill="#00ff00"/><path d="M628.48 322.1L632.28 328.7L624.68 328.7Z" fill="#00ff00"/><path d="M638.13 319.3L641.93 325.9L634.33 325.9Z" fill="#00ff00"/><path d="M645.63 316.5L649.43 323.1L641.83 323.1Z" fill="#00ff00"/><path d="M649.01 315.8L652.81 322.4L645.21 322.4Z" fill="#00ff00"/><path d="M661.58 314.4L665.38 321L657.78 321Z" fill="#00ff00"/>
<path d="M428.5 409.34 L433.46 407.45 L438.43 405.54 L443.39 403.6 L448.36 401.64 L453.32 399.65 L458.28 397.64 L463.25 395.62 L468.21 393.58 L473.17 391.52 L478.14 389.44 L483.1 387.36 L488.07 385.26 L493.03 383.15 L497.99 381.04 L502.96 378.91 L507.92 376.79 L512.89 374.66 L517.85 372.52 L522.81 370.39 L527.78 368.26 L532.74 366.13 L537.7 364.01 L542.67 361.89 L547.63 359.78 L552.6 357.68 L557.56 355.59 L562.52 353.52 L567.49 351.45 L572.45 349.41 L577.41 347.38 L582.38 345.37 L587.34 343.38 L592.31 341.41 L597.27 339.47 L602.23 337.55 L607.2 335.66 L612.16 333.79 L617.13 331.96 L622.09 330.16 L627.05 328.39 L632.02 326.66 L636.98 324.96 L641.94 323.3 L646.91 321.68 L651.87 320.1 L656.84 318.57 L661.8 317.08" fill="none" stroke="#00ff00" stroke-width="1.6" stroke-linejoin="round"/>
<rect x="423" y="295.4" width="261.5" height="192.1" fill="none" stroke="#1a1a1a" stroke-width="1.1"/>
<path d="M423 479.5h-4M423 444.72h-4M423 409.94h-4M423 375.16h-4M423 340.38h-4M423 305.6h-4" stroke="#1a1a1a" stroke-width="1.1"/>
<path d="M423 487.22h-2M423 482.87h-2M423 469.03h-2M423 458.56h-2M423 452.44h-2M423 448.09h-2M423 434.25h-2M423 423.78h-2M423 417.66h-2M423 413.31h-2M423 399.47h-2M423 389h-2M423 382.88h-2M423 378.53h-2M423 364.69h-2M423 354.22h-2M423 348.1h-2M423 343.75h-2M423 329.91h-2M423 319.44h-2M423 313.32h-2M423 308.97h-2" stroke="#1a1a1a" stroke-width="1.1"/>
<path d="M441.58 487.5v4M487.3 487.5v4M533.02 487.5v4M578.74 487.5v4M624.46 487.5v4M670.18 487.5v4" stroke="#1a1a1a" stroke-width="1.1"/>
<path d="M423.39 487.5v2M431.44 487.5v2M437.15 487.5v2M455.34 487.5v2M469.11 487.5v2M477.16 487.5v2M482.87 487.5v2M501.06 487.5v2M514.83 487.5v2M522.88 487.5v2M528.59 487.5v2M546.78 487.5v2M560.55 487.5v2M568.6 487.5v2M574.31 487.5v2M592.5 487.5v2M606.27 487.5v2M614.32 487.5v2M620.03 487.5v2M638.22 487.5v2M651.99 487.5v2M660.04 487.5v2M665.75 487.5v2M683.94 487.5v2" stroke="#1a1a1a" stroke-width="1.1"/>
<rect x="444.4" y="303.5" width="5.4" height="5.4" fill="#000"/><circle cx="447.1" cy="321" r="3.2" fill="#ff0000"/><path d="M447.1 333.35L450.95 339.85L443.25 339.85Z" fill="#00ff00"/>
</g>
<g filter="url(#bl2)" stroke-width="0.3">
<text x="70.2" y="213.9" font-size="13.5" text-anchor="end" fill="#000" stroke="#000" >0.0</text>
<text id="t1" class="has1" x="69.5" y="159.3" font-size="13.5" text-anchor="end" fill="#000" stroke="#000" >5.0×&#8199;0<tspan font-size="9.3" dy="-6.3">4</tspan></text>
<text id="t2" class="has1" x="69.5" y="103.8" font-size="13.5" text-anchor="end" fill="#000" stroke="#000" >&#8199;.0×&#8199;0<tspan font-size="9.3" dy="-6.3">5</tspan></text>
<text id="t3" class="has1" x="69.5" y="48.3" font-size="13.5" text-anchor="end" fill="#000" stroke="#000" >&#8199;.5×&#8199;0<tspan font-size="9.3" dy="-6.3">5</tspan></text>
<text x="127.45" y="235.1" font-size="13.5" text-anchor="middle" fill="#000" stroke="#000" >800</text>
<text x="206.2" y="235.1" font-size="13.5" text-anchor="middle" fill="#000" stroke="#000" >850</text>
<text x="284.95" y="235.1" font-size="13.5" text-anchor="middle" fill="#000" stroke="#000" >900</text>
<text x="206.2" y="259" font-size="13" text-anchor="middle" fill="#000" stroke="#000" >Wavelength (nm)</text>
<text x="0" y="0" font-size="13.25" text-anchor="middle" transform="translate(11.2 114.4) rotate(-90)" fill="#000" stroke="#000">PL intensity (cps)</text>
<text id="t4" class="has1" x="108.75" y="27.3" font-size="9.5" text-anchor="start" fill="#000" stroke="#000" >GaAs DH &#8199;-&#8199;&#8199;38 320 W cm<tspan font-size="6.5" dy="-3.8">&#8722;2</tspan></text>
<text id="t5" class="has1" x="108.75" y="42.8" font-size="9.5" text-anchor="start" fill="#000" stroke="#000" >GaAs DH &#8199;-&#8199;&#8199;38 37 W cm<tspan font-size="6.5" dy="-3.8">&#8722;2</tspan></text>
<text x="108.75" y="56.1" font-size="9.5" text-anchor="start" fill="#000" stroke="#000" >GaAs DH WA540 320 W cm<tspan font-size="6.5" dy="-3.8">&#8722;2</tspan></text>
<text x="108.75" y="72.5" font-size="9.5" text-anchor="start" fill="#000" stroke="#000" >GaAs DH WA540 37 W cm<tspan font-size="6.5" dy="-3.8">&#8722;2</tspan></text>
<text id="t6" class="has1" x="263.3" y="146.1" font-size="11.4" text-anchor="start" fill="#ff0000" stroke="#ff0000" >×&#8199;,000</text>
<text id="t7" class="has1" x="203.5" y="195.2" font-size="11.4" text-anchor="start" fill="#222" stroke="#222" >×&#8199;0,000</text>
<text id="t8" class="has1" x="412.6" y="34.1" font-size="13.5" text-anchor="end" fill="#000" stroke="#000" >&#8199;0<tspan font-size="9.3" dy="-6.3">7</tspan></text>
<text id="t9" class="has1" x="412.6" y="75.1" font-size="13.5" text-anchor="end" fill="#000" stroke="#000" >&#8199;0<tspan font-size="9.3" dy="-6.3">5</tspan></text>
<text id="t10" class="has1" x="412.6" y="116.1" font-size="13.5" text-anchor="end" fill="#000" stroke="#000" >&#8199;0<tspan font-size="9.3" dy="-6.3">3</tspan></text>
<text id="t11" class="has1" x="412.6" y="157.1" font-size="13.5" text-anchor="end" fill="#000" stroke="#000" >&#8199;0<tspan font-size="9.3" dy="-6.3">&#8199;</tspan></text>
<text id="t12" class="has1" x="412.6" y="198.1" font-size="13.5" text-anchor="end" fill="#000" stroke="#000" >&#8199;0<tspan font-size="9.3" dy="-6.3">&#8722;&#8199;</tspan></text>
<text id="t13" class="has1" x="453.6" y="238.7" font-size="13.5" text-anchor="middle" fill="#000" stroke="#000" >&#8199;0<tspan font-size="9.3" dy="-6.3">&#8722;&#8199;</tspan></text>
<text id="t14" class="has1" x="497" y="238.7" font-size="13.5" text-anchor="middle" fill="#000" stroke="#000" >&#8199;0<tspan font-size="9.3" dy="-6.3">0</tspan></text>
<text id="t15" class="has1" x="540.4" y="238.7" font-size="13.5" text-anchor="middle" fill="#000" stroke="#000" >&#8199;0<tspan font-size="9.3" dy="-6.3">&#8199;</tspan></text>
<text id="t16" class="has1" x="583.8" y="238.7" font-size="13.5" text-anchor="middle" fill="#000" stroke="#000" >&#8199;0<tspan font-size="9.3" dy="-6.3">2</tspan></text>
<text id="t17" class="has1" x="627.2" y="238.7" font-size="13.5" text-anchor="middle" fill="#000" stroke="#000" >&#8199;0<tspan font-size="9.3" dy="-6.3">3</tspan></text>
<text id="t18" class="has1" x="670.6" y="238.7" font-size="13.5" text-anchor="middle" fill="#000" stroke="#000" >&#8199;0<tspan font-size="9.3" dy="-6.3">4</tspan></text>
<text x="553.5" y="258.8" font-size="13" text-anchor="middle" fill="#000" stroke="#000" >Power density (W cm<tspan font-size="9" dy="-5">&#8722;2</tspan><tspan dy="5">)</tspan></text>
<text x="0" y="0" font-size="13.25" text-anchor="middle" transform="translate(376.5 120.6) rotate(-90)" fill="#000" stroke="#000">PL intensity (cps)</text>
<text id="t19" class="has1" x="451.2" y="39.9" font-size="11.4" text-anchor="start" fill="#000" stroke="#000" >GaAs DH &#8199;-&#8199;&#8199;38</text>
<text x="451.2" y="54.3" font-size="11.4" text-anchor="start" fill="#000" stroke="#000" >GaAs DH WA540</text>
<text x="451.2" y="69.2" font-size="11.4" text-anchor="start" fill="#000" stroke="#000" >GaAs DH B2206</text>
<text x="638.6" y="126.7" font-size="11.4" text-anchor="start" fill="#000" stroke="#000" >linear</text>
<text id="t20" class="has1" x="70.2" y="310.5" font-size="13.5" text-anchor="end" fill="#000" stroke="#000" >&#8199;0<tspan font-size="9.3" dy="-6.3">3</tspan></text>
<text id="t21" class="has1" x="70.2" y="340.35" font-size="13.5" text-anchor="end" fill="#000" stroke="#000" >&#8199;0<tspan font-size="9.3" dy="-6.3">2</tspan></text>
<text id="t22" class="has1" x="70.2" y="370.2" font-size="13.5" text-anchor="end" fill="#000" stroke="#000" >&#8199;0<tspan font-size="9.3" dy="-6.3">&#8199;</tspan></text>
<text id="t23" class="has1" x="70.2" y="400.05" font-size="13.5" text-anchor="end" fill="#000" stroke="#000" >&#8199;0<tspan font-size="9.3" dy="-6.3">0</tspan></text>
<text id="t24" class="has1" x="70.2" y="429.9" font-size="13.5" text-anchor="end" fill="#000" stroke="#000" >&#8199;0<tspan font-size="9.3" dy="-6.3">&#8722;&#8199;</tspan></text>
<text id="t25" class="has1" x="70.2" y="459.75" font-size="13.5" text-anchor="end" fill="#000" stroke="#000" >&#8199;0<tspan font-size="9.3" dy="-6.3">&#8722;2</tspan></text>
<text id="t26" class="has1" x="70.2" y="489.6" font-size="13.5" text-anchor="end" fill="#000" stroke="#000" >&#8199;0<tspan font-size="9.3" dy="-6.3">&#8722;3</tspan></text>
<text id="t27" class="has1" x="111.4" y="510" font-size="13.5" text-anchor="middle" fill="#000" stroke="#000" >&#8199;0<tspan font-size="9.3" dy="-6.3">&#8722;&#8199;</tspan></text>
<text id="t28" class="has1" x="155.5" y="510" font-size="13.5" text-anchor="middle" fill="#000" stroke="#000" >&#8199;0<tspan font-size="9.3" dy="-6.3">0</tspan></text>
<text id="t29" class="has1" x="199.6" y="510" font-size="13.5" text-anchor="middle" fill="#000" stroke="#000" >&#8199;0<tspan font-size="9.3" dy="-6.3">&#8199;</tspan></text>
<text id="t30" class="has1" x="243.7" y="510" font-size="13.5" text-anchor="middle" fill="#000" stroke="#000" >&#8199;0<tspan font-size="9.3" dy="-6.3">2</tspan></text>
<text id="t31" class="has1" x="287.8" y="510" font-size="13.5" text-anchor="middle" fill="#000" stroke="#000" >&#8199;0<tspan font-size="9.3" dy="-6.3">3</tspan></text>
<text id="t32" class="has1" x="331.9" y="510" font-size="13.5" text-anchor="middle" fill="#000" stroke="#000" >&#8199;0<tspan font-size="9.3" dy="-6.3">4</tspan></text>
<text x="213.6" y="532.7" font-size="13" text-anchor="middle" fill="#000" stroke="#000" >Power density (W cm<tspan font-size="9" dy="-5">&#8722;2</tspan><tspan dy="5">)</tspan></text>
<text x="0" y="0" font-size="13.25" text-anchor="middle" transform="translate(34.3 391.6) rotate(-90)" fill="#000" stroke="#000">PL/P (a.u.)</text>
<text id="t33" class="has1" x="109.1" y="314.6" font-size="11.4" text-anchor="start" fill="#000" stroke="#000" >GaAs DH &#8199;-&#8199;&#8199;38</text>
<text x="109.1" y="329.1" font-size="11.4" text-anchor="start" fill="#000" stroke="#000" >GaAs DH WA540</text>
<text x="109.1" y="342.6" font-size="11.4" text-anchor="start" fill="#000" stroke="#000" >GaAs DH B2206</text>
<text id="t34" class="has1" x="412.6" y="310.3" font-size="13.5" text-anchor="end" fill="#000" stroke="#000" >&#8199;0<tspan font-size="9.3" dy="-6.3">0</tspan></text>
<text id="t35" class="has1" x="412.6" y="345.08" font-size="13.5" text-anchor="end" fill="#000" stroke="#000" >&#8199;0<tspan font-size="9.3" dy="-6.3">&#8722;&#8199;</tspan></text>
<text id="t36" class="has1" x="412.6" y="379.86" font-size="13.5" text-anchor="end" fill="#000" stroke="#000" >&#8199;0<tspan font-size="9.3" dy="-6.3">&#8722;2</tspan></text>
<text id="t37" class="has1" x="412.6" y="414.64" font-size="13.5" text-anchor="end" fill="#000" stroke="#000" >&#8199;0<tspan font-size="9.3" dy="-6.3">&#8722;3</tspan></text>
<text id="t38" class="has1" x="412.6" y="449.42" font-size="13.5" text-anchor="end" fill="#000" stroke="#000" >&#8199;0<tspan font-size="9.3" dy="-6.3">&#8722;4</tspan></text>
<text id="t39" class="has1" x="412.6" y="484.2" font-size="13.5" text-anchor="end" fill="#000" stroke="#000" >&#8199;0<tspan font-size="9.3" dy="-6.3">&#8722;5</tspan></text>
<text id="t40" class="has1" x="441.58" y="509.6" font-size="13.5" text-anchor="middle" fill="#000" stroke="#000" >&#8199;0<tspan font-size="9.3" dy="-6.3">&#8722;&#8199;</tspan></text>
<text id="t41" class="has1" x="487.3" y="509.6" font-size="13.5" text-anchor="middle" fill="#000" stroke="#000" >&#8199;0<tspan font-size="9.3" dy="-6.3">0</tspan></text>
<text id="t42" class="has1" x="533.02" y="509.6" font-size="13.5" text-anchor="middle" fill="#000" stroke="#000" >&#8199;0<tspan font-size="9.3" dy="-6.3">&#8199;</tspan></text>
<text id="t43" class="has1" x="578.74" y="509.6" font-size="13.5" text-anchor="middle" fill="#000" stroke="#000" >&#8199;0<tspan font-size="9.3" dy="-6.3">2</tspan></text>
<text id="t44" class="has1" x="624.46" y="509.6" font-size="13.5" text-anchor="middle" fill="#000" stroke="#000" >&#8199;0<tspan font-size="9.3" dy="-6.3">3</tspan></text>
<text id="t45" class="has1" x="670.18" y="509.6" font-size="13.5" text-anchor="middle" fill="#000" stroke="#000" >&#8199;0<tspan font-size="9.3" dy="-6.3">4</tspan></text>
<text x="553.7" y="532.7" font-size="13" text-anchor="middle" fill="#000" stroke="#000" >Power density (W cm<tspan font-size="9" dy="-5">&#8722;2</tspan><tspan dy="5">)</tspan></text>
<text x="0" y="0" font-size="13.25" text-anchor="middle" transform="translate(376.3 391.5) rotate(-90)" fill="#000" stroke="#000">IQE</text>
<text id="t46" class="has1" x="454.3" y="309.8" font-size="11.4" text-anchor="start" fill="#000" stroke="#000" >GaAs DH &#8199;-&#8199;&#8199;38</text>
<text x="454.3" y="324.7" font-size="11.4" text-anchor="start" fill="#000" stroke="#000" >GaAs DH WA540</text>
<text x="454.3" y="340.2" font-size="11.4" text-anchor="start" fill="#000" stroke="#000" >GaAs DH B2206</text>
<text x="-0.6" y="13.8" font-size="18" text-anchor="start" fill="#000" stroke="#000" font-weight="bold" >a</text>
<text x="365.2" y="13.9" font-size="18" text-anchor="start" fill="#000" stroke="#000" font-weight="bold" >b</text>
<text x="-0.2" y="301.6" font-size="18" text-anchor="start" fill="#000" stroke="#000" font-weight="bold" >c</text>
<text x="365" y="301.2" font-size="18" text-anchor="start" fill="#000" stroke="#000" font-weight="bold" >d</text>
<path d="M52.70 159.30 L52.70 151.12 L50.60 152.62 L50.60 151.50 L52.80 149.98 L53.90 149.98 L53.90 159.30Z" fill="#000" stroke="#000"/>
<path d="M26.05 103.80 L26.05 95.64 L23.96 97.14 L23.96 96.01 L26.15 94.50 L27.25 94.50 L27.25 103.80Z" fill="#000" stroke="#000"/>
<path d="M52.70 103.80 L52.70 95.62 L50.60 97.12 L50.60 96.00 L52.80 94.48 L53.90 94.48 L53.90 103.80Z" fill="#000" stroke="#000"/>
<path d="M26.05 48.30 L26.05 40.14 L23.96 41.64 L23.96 40.51 L26.15 39.00 L27.25 39.00 L27.25 48.30Z" fill="#000" stroke="#000"/>
<path d="M52.70 48.30 L52.70 40.12 L50.60 41.62 L50.60 40.50 L52.80 38.98 L53.90 38.98 L53.90 48.30Z" fill="#000" stroke="#000"/>
<path d="M153.89 27.30 L153.89 21.55 L152.42 22.60 L152.42 21.81 L153.96 20.75 L154.74 20.75 L154.74 27.30Z" fill="#000" stroke="#000"/>
<path d="M162.35 27.30 L162.35 21.55 L160.87 22.60 L160.87 21.81 L162.42 20.75 L163.19 20.75 L163.19 27.30Z" fill="#000" stroke="#000"/>
<path d="M167.63 27.30 L167.63 21.55 L166.15 22.60 L166.15 21.81 L167.70 20.75 L168.47 20.75 L168.47 27.30Z" fill="#000" stroke="#000"/>
<path d="M153.89 42.80 L153.89 37.05 L152.42 38.10 L152.42 37.31 L153.96 36.25 L154.74 36.25 L154.74 42.80Z" fill="#000" stroke="#000"/>
<path d="M162.35 42.80 L162.35 37.05 L160.87 38.10 L160.87 37.31 L162.42 36.25 L163.19 36.25 L163.19 42.80Z" fill="#000" stroke="#000"/>
<path d="M167.63 42.80 L167.63 37.05 L166.15 38.10 L166.15 37.31 L167.70 36.25 L168.47 36.25 L168.47 42.80Z" fill="#000" stroke="#000"/>
<path d="M272.82 146.10 L272.82 139.19 L271.04 140.46 L271.04 139.51 L272.90 138.23 L273.83 138.23 L273.83 146.10Z" fill="#ff0000" stroke="#ff0000"/>
<path d="M213.02 195.20 L213.02 188.29 L211.24 189.56 L211.24 188.61 L213.10 187.33 L214.03 187.33 L214.03 195.20Z" fill="#222" stroke="#222"/>
<path d="M395.80 34.10 L395.80 25.94 L393.70 27.44 L393.70 26.31 L395.89 24.80 L396.99 24.80 L396.99 34.10Z" fill="#000" stroke="#000"/>
<path d="M395.80 75.10 L395.80 66.94 L393.70 68.44 L393.70 67.31 L395.89 65.80 L396.99 65.80 L396.99 75.10Z" fill="#000" stroke="#000"/>
<path d="M395.80 116.10 L395.80 107.94 L393.70 109.44 L393.70 108.31 L395.89 106.80 L396.99 106.80 L396.99 116.10Z" fill="#000" stroke="#000"/>
<path d="M395.80 157.10 L395.80 148.94 L393.70 150.44 L393.70 149.31 L395.89 147.80 L396.99 147.80 L396.99 157.10Z" fill="#000" stroke="#000"/>
<path d="M409.77 150.80 L409.77 145.18 L408.32 146.21 L408.32 145.44 L409.83 144.40 L410.59 144.40 L410.59 150.80Z" fill="#000" stroke="#000"/>
<path d="M390.36 198.10 L390.36 189.94 L388.26 191.44 L388.26 190.31 L390.46 188.80 L391.55 188.80 L391.55 198.10Z" fill="#000" stroke="#000"/>
<path d="M409.76 191.80 L409.76 186.17 L408.31 187.20 L408.31 186.43 L409.83 185.38 L410.58 185.38 L410.58 191.80Z" fill="#000" stroke="#000"/>
<path d="M444.18 238.70 L444.18 230.54 L442.08 232.04 L442.08 230.91 L444.28 229.40 L445.37 229.40 L445.37 238.70Z" fill="#000" stroke="#000"/>
<path d="M463.58 232.40 L463.58 226.77 L462.13 227.80 L462.13 227.03 L463.65 225.98 L464.40 225.98 L464.40 232.40Z" fill="#000" stroke="#000"/>
<path d="M490.30 238.70 L490.30 230.54 L488.20 232.04 L488.20 230.91 L490.40 229.40 L491.49 229.40 L491.49 238.70Z" fill="#000" stroke="#000"/>
<path d="M533.70 238.70 L533.70 230.54 L531.60 232.04 L531.60 230.91 L533.80 229.40 L534.89 229.40 L534.89 238.70Z" fill="#000" stroke="#000"/>
<path d="M547.67 232.40 L547.67 226.78 L546.22 227.81 L546.22 227.04 L547.74 226.00 L548.49 226.00 L548.49 232.40Z" fill="#000" stroke="#000"/>
<path d="M577.10 238.70 L577.10 230.54 L575.00 232.04 L575.00 230.91 L577.20 229.40 L578.29 229.40 L578.29 238.70Z" fill="#000" stroke="#000"/>
<path d="M620.50 238.70 L620.50 230.54 L618.40 232.04 L618.40 230.91 L620.60 229.40 L621.69 229.40 L621.69 238.70Z" fill="#000" stroke="#000"/>
<path d="M663.90 238.70 L663.90 230.54 L661.80 232.04 L661.80 230.91 L664.00 229.40 L665.09 229.40 L665.09 238.70Z" fill="#000" stroke="#000"/>
<path d="M505.33 39.90 L505.33 33.01 L503.56 34.27 L503.56 33.33 L505.42 32.05 L506.34 32.05 L506.34 39.90Z" fill="#000" stroke="#000"/>
<path d="M515.46 39.90 L515.46 33.01 L513.69 34.27 L513.69 33.33 L515.54 32.05 L516.47 32.05 L516.47 39.90Z" fill="#000" stroke="#000"/>
<path d="M521.79 39.90 L521.79 32.99 L520.02 34.26 L520.02 33.31 L521.88 32.03 L522.80 32.03 L522.80 39.90Z" fill="#000" stroke="#000"/>
<path d="M53.40 310.50 L53.40 302.34 L51.30 303.84 L51.30 302.71 L53.49 301.20 L54.59 301.20 L54.59 310.50Z" fill="#000" stroke="#000"/>
<path d="M53.40 340.35 L53.40 332.19 L51.30 333.69 L51.30 332.56 L53.49 331.05 L54.59 331.05 L54.59 340.35Z" fill="#000" stroke="#000"/>
<path d="M53.40 370.20 L53.40 362.04 L51.30 363.54 L51.30 362.41 L53.49 360.90 L54.59 360.90 L54.59 370.20Z" fill="#000" stroke="#000"/>
<path d="M67.37 363.90 L67.37 358.28 L65.92 359.31 L65.92 358.54 L67.43 357.50 L68.19 357.50 L68.19 363.90Z" fill="#000" stroke="#000"/>
<path d="M53.40 400.05 L53.40 391.89 L51.30 393.39 L51.30 392.26 L53.49 390.75 L54.59 390.75 L54.59 400.05Z" fill="#000" stroke="#000"/>
<path d="M47.96 429.90 L47.96 421.74 L45.86 423.24 L45.86 422.11 L48.06 420.60 L49.15 420.60 L49.15 429.90Z" fill="#000" stroke="#000"/>
<path d="M67.36 423.60 L67.36 417.97 L65.91 419.00 L65.91 418.23 L67.43 417.18 L68.18 417.18 L68.18 423.60Z" fill="#000" stroke="#000"/>
<path d="M47.96 459.75 L47.96 451.59 L45.86 453.09 L45.86 451.96 L48.06 450.45 L49.15 450.45 L49.15 459.75Z" fill="#000" stroke="#000"/>
<path d="M47.96 489.60 L47.96 481.44 L45.86 482.94 L45.86 481.81 L48.06 480.30 L49.15 480.30 L49.15 489.60Z" fill="#000" stroke="#000"/>
<path d="M101.98 510.00 L101.98 501.84 L99.88 503.34 L99.88 502.21 L102.08 500.70 L103.17 500.70 L103.17 510.00Z" fill="#000" stroke="#000"/>
<path d="M121.38 503.70 L121.38 498.07 L119.93 499.10 L119.93 498.33 L121.45 497.28 L122.20 497.28 L122.20 503.70Z" fill="#000" stroke="#000"/>
<path d="M148.80 510.00 L148.80 501.84 L146.70 503.34 L146.70 502.21 L148.90 500.70 L149.99 500.70 L149.99 510.00Z" fill="#000" stroke="#000"/>
<path d="M192.90 510.00 L192.90 501.84 L190.80 503.34 L190.80 502.21 L193.00 500.70 L194.09 500.70 L194.09 510.00Z" fill="#000" stroke="#000"/>
<path d="M206.87 503.70 L206.87 498.08 L205.42 499.11 L205.42 498.34 L206.94 497.30 L207.69 497.30 L207.69 503.70Z" fill="#000" stroke="#000"/>
<path d="M237.00 510.00 L237.00 501.84 L234.90 503.34 L234.90 502.21 L237.10 500.70 L238.19 500.70 L238.19 510.00Z" fill="#000" stroke="#000"/>
<path d="M281.10 510.00 L281.10 501.84 L279.00 503.34 L279.00 502.21 L281.20 500.70 L282.29 500.70 L282.29 510.00Z" fill="#000" stroke="#000"/>
<path d="M325.20 510.00 L325.20 501.84 L323.10 503.34 L323.10 502.21 L325.30 500.70 L326.39 500.70 L326.39 510.00Z" fill="#000" stroke="#000"/>
<path d="M163.23 314.60 L163.23 307.71 L161.46 308.97 L161.46 308.03 L163.32 306.75 L164.24 306.75 L164.24 314.60Z" fill="#000" stroke="#000"/>
<path d="M173.36 314.60 L173.36 307.71 L171.59 308.97 L171.59 308.03 L173.44 306.75 L174.37 306.75 L174.37 314.60Z" fill="#000" stroke="#000"/>
<path d="M179.69 314.60 L179.69 307.69 L177.92 308.96 L177.92 308.01 L179.78 306.73 L180.70 306.73 L180.70 314.60Z" fill="#000" stroke="#000"/>
<path d="M395.80 310.30 L395.80 302.14 L393.70 303.64 L393.70 302.51 L395.89 301.00 L396.99 301.00 L396.99 310.30Z" fill="#000" stroke="#000"/>
<path d="M390.36 345.08 L390.36 336.92 L388.26 338.42 L388.26 337.29 L390.46 335.78 L391.55 335.78 L391.55 345.08Z" fill="#000" stroke="#000"/>
<path d="M409.76 338.78 L409.76 333.15 L408.31 334.18 L408.31 333.41 L409.83 332.36 L410.58 332.36 L410.58 338.78Z" fill="#000" stroke="#000"/>
<path d="M390.36 379.86 L390.36 371.70 L388.26 373.20 L388.26 372.07 L390.46 370.56 L391.55 370.56 L391.55 379.86Z" fill="#000" stroke="#000"/>
<path d="M390.36 414.64 L390.36 406.48 L388.26 407.98 L388.26 406.85 L390.46 405.34 L391.55 405.34 L391.55 414.64Z" fill="#000" stroke="#000"/>
<path d="M390.36 449.42 L390.36 441.26 L388.26 442.76 L388.26 441.63 L390.46 440.12 L391.55 440.12 L391.55 449.42Z" fill="#000" stroke="#000"/>
<path d="M390.36 484.20 L390.36 476.04 L388.26 477.54 L388.26 476.41 L390.46 474.90 L391.55 474.90 L391.55 484.20Z" fill="#000" stroke="#000"/>
<path d="M432.16 509.60 L432.16 501.44 L430.06 502.94 L430.06 501.81 L432.26 500.30 L433.35 500.30 L433.35 509.60Z" fill="#000" stroke="#000"/>
<path d="M451.56 503.30 L451.56 497.67 L450.11 498.70 L450.11 497.93 L451.63 496.88 L452.38 496.88 L452.38 503.30Z" fill="#000" stroke="#000"/>
<path d="M480.60 509.60 L480.60 501.44 L478.50 502.94 L478.50 501.81 L480.70 500.30 L481.79 500.30 L481.79 509.60Z" fill="#000" stroke="#000"/>
<path d="M526.32 509.60 L526.32 501.44 L524.22 502.94 L524.22 501.81 L526.42 500.30 L527.51 500.30 L527.51 509.60Z" fill="#000" stroke="#000"/>
<path d="M540.29 503.30 L540.29 497.68 L538.84 498.71 L538.84 497.94 L540.36 496.90 L541.11 496.90 L541.11 503.30Z" fill="#000" stroke="#000"/>
<path d="M572.04 509.60 L572.04 501.44 L569.94 502.94 L569.94 501.81 L572.14 500.30 L573.23 500.30 L573.23 509.60Z" fill="#000" stroke="#000"/>
<path d="M617.76 509.60 L617.76 501.44 L615.66 502.94 L615.66 501.81 L617.86 500.30 L618.95 500.30 L618.95 509.60Z" fill="#000" stroke="#000"/>
<path d="M663.48 509.60 L663.48 501.44 L661.38 502.94 L661.38 501.81 L663.58 500.30 L664.67 500.30 L664.67 509.60Z" fill="#000" stroke="#000"/>
<path d="M508.43 309.80 L508.43 302.91 L506.66 304.17 L506.66 303.23 L508.52 301.95 L509.44 301.95 L509.44 309.80Z" fill="#000" stroke="#000"/>
<path d="M518.56 309.80 L518.56 302.91 L516.79 304.17 L516.79 303.23 L518.64 301.95 L519.57 301.95 L519.57 309.80Z" fill="#000" stroke="#000"/>
<path d="M524.89 309.80 L524.89 302.89 L523.12 304.16 L523.12 303.21 L524.98 301.93 L525.90 301.93 L525.90 309.80Z" fill="#000" stroke="#000"/>
</g>
</svg></body></html>
